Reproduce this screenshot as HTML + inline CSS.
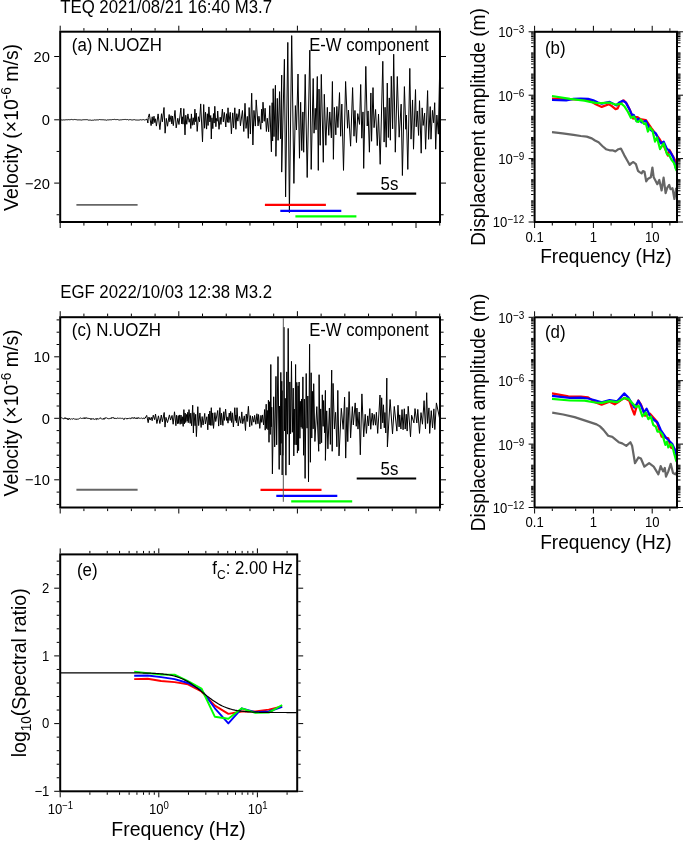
<!DOCTYPE html>
<html><head><meta charset="utf-8"><style>
html,body{margin:0;padding:0;background:#fff;}
svg{display:block;will-change:transform;}
text{font-family:"Liberation Sans", sans-serif;fill:#000;}
</style></head><body>
<svg width="685" height="842" viewBox="0 0 685 842">
<rect width="685" height="842" fill="#fff"/>
<text transform="translate(60.20,12.60) scale(1,1.04)" font-size="16.8" text-anchor="start">TEQ 2021/08/21 16:40 M3.7</text>
<polyline points="61.00,119.81 61.50,119.91 62.00,119.93 62.50,120.06 63.00,119.72 63.50,119.88 64.00,119.89 64.50,119.95 65.00,119.95 65.50,119.80 66.00,119.89 66.50,119.73 67.00,119.93 67.50,119.78 68.00,119.73 68.50,119.62 69.00,119.85 69.50,119.74 70.00,119.79 70.50,119.64 71.00,119.77 71.50,119.43 72.00,119.57 72.50,119.65 73.00,119.55 73.50,119.70 74.00,119.59 74.50,119.46 75.00,119.59 75.50,119.58 76.00,119.42 76.50,119.70 77.00,119.68 77.50,119.90 78.00,120.11 78.50,119.86 79.00,120.11 79.50,119.86 80.00,119.97 80.50,119.92 81.00,120.07 81.50,120.05 82.00,119.94 82.50,119.84 83.00,119.80 83.50,119.73 84.00,119.70 84.50,119.69 85.00,119.76 85.50,119.68 86.00,119.84 86.50,119.65 87.00,119.89 87.50,119.73 88.00,119.73 88.50,120.13 89.00,120.01 89.50,120.08 90.00,120.06 90.50,120.08 91.00,120.26 91.50,120.32 92.00,120.07 92.50,120.20 93.00,120.06 93.50,120.20 94.00,120.10 94.50,119.89 95.00,120.14 95.50,120.01 96.00,120.07 96.50,119.90 97.00,119.64 97.50,119.85 98.00,120.13 98.50,119.88 99.00,119.73 99.50,119.50 100.00,119.61 100.50,119.66 101.00,119.59 101.50,119.71 102.00,119.49 102.50,119.74 103.00,119.72 103.50,119.78 104.00,119.66 104.50,119.91 105.00,119.65 105.50,119.95 106.00,120.11 106.50,120.22 107.00,120.08 107.50,119.87 108.00,119.77 108.50,119.90 109.00,119.75 109.50,119.77 110.00,119.76 110.50,119.75 111.00,119.80 111.50,119.79 112.00,119.58 112.50,119.52 113.00,119.53 113.50,119.54 114.00,119.36 114.50,119.36 115.00,119.59 115.50,119.60 116.00,119.62 116.50,119.59 117.00,119.80 117.50,119.53 118.00,119.57 118.50,119.83 119.00,119.82 119.50,120.00 120.00,120.15 120.50,119.83 121.00,119.98 121.50,119.81 122.00,119.61 122.50,119.61 123.00,119.39 123.50,119.55 124.00,119.44 124.50,119.47 125.00,119.68 125.50,119.44 126.00,119.37 126.50,119.64 127.00,119.67 127.50,119.53 128.00,119.68 128.50,119.94 129.00,119.86 129.50,119.65 130.00,119.72 130.50,119.62 131.00,119.59 131.50,119.90 132.00,120.01 132.50,119.95 133.00,119.81 133.50,119.74 134.00,119.74 134.50,119.65 135.00,119.86 135.50,119.98 136.00,120.02 136.50,120.02 137.00,120.07 137.50,120.06 138.00,120.02 138.50,120.07 139.00,120.09 139.50,119.97 140.00,120.00 140.50,119.69 141.00,119.67 141.50,119.91 142.00,119.74 142.50,119.76 143.00,119.82 143.50,119.61 144.00,119.76 144.50,120.01 145.00,119.64 145.50,119.76 146.00,119.80 146.97,118.96 147.88,123.02 148.27,117.46 149.30,113.90 151.10,125.60 152.22,116.77 152.78,123.82 154.00,116.20 154.79,122.58 155.49,118.81 156.40,126.10 158.10,113.90 159.90,129.60 161.53,113.73 162.37,121.80 164.00,107.50 165.10,133.20 166.30,118.40 167.52,126.23 169.20,114.50 169.80,121.75 171.06,115.70 171.80,123.92 172.42,116.00 173.30,125.60 175.00,110.40 176.20,127.90 177.79,118.27 178.94,124.50 180.90,108.00 181.68,123.82 182.46,116.82 182.99,124.17 183.80,108.60 185.00,134.90 185.76,115.22 186.76,124.26 187.90,113.90 189.14,122.24 190.06,118.66 190.80,128.50 191.40,113.90 192.19,125.29 193.20,117.76 194.12,124.77 194.90,109.20 195.47,121.64 196.23,113.08 197.20,131.40 198.36,116.71 199.50,121.86 200.70,103.90 202.50,141.90 203.70,104.50 204.62,128.23 205.50,112.25 206.60,129.10 207.37,113.76 208.09,125.47 208.90,106.90 209.89,121.92 210.72,115.51 211.30,139.00 211.95,117.79 212.83,128.67 213.48,113.55 214.13,123.08 214.80,106.30 215.90,126.70 216.39,118.41 217.20,121.23 217.70,111.00 219.00,129.30 220.19,117.19 220.95,124.43 222.40,109.00 223.33,121.87 224.33,112.42 225.80,127.00 226.56,113.72 227.45,122.27 228.00,107.80 228.87,122.62 230.27,112.30 231.40,133.80 232.71,112.86 233.58,127.93 234.80,107.80 235.90,129.30 236.80,113.70 237.90,121.17 239.30,109.00 240.45,125.74 242.45,110.53 243.80,131.50 245.00,103.30 246.03,128.43 247.34,116.41 248.30,138.30 249.13,107.52 250.39,134.06 251.70,93.20 252.90,145.00 253.94,110.42 255.35,126.10 256.20,99.90 258.07,125.93 258.94,116.23 260.80,129.30 261.55,109.25 262.16,123.00 263.00,102.20 264.22,121.32 265.10,108.23 266.40,131.50 267.28,118.22 268.65,131.76 269.80,105.60 271.40,151.80 272.17,102.73 272.61,140.99 273.20,88.70 273.99,136.62 275.40,85.30 275.90,156.30 277.30,98.36 278.09,140.34 279.55,91.62 280.56,138.73 281.70,75.10 281.70,172.10 284.40,59.30 285.60,196.90 287.80,42.40 289.40,212.60 291.70,35.60 293.90,183.40 295.39,105.60 296.48,130.03 298.00,74.00 299.47,158.22 300.64,102.26 301.75,150.58 302.88,111.94 303.68,152.24 305.20,74.40 307.20,177.50 309.80,50.20 311.20,169.40 313.20,78.50 314.06,133.19 315.25,108.32 316.02,129.81 317.30,76.50 318.30,170.40 319.02,89.09 320.20,145.28 321.30,74.40 323.30,162.30 324.30,94.29 325.83,145.26 327.32,107.37 328.75,135.34 329.77,111.96 331.37,137.88 332.40,81.50 333.40,159.30 334.37,107.37 335.82,134.85 336.83,106.47 337.92,127.57 339.50,92.60 340.67,136.24 341.83,104.07 343.50,170.40 345.60,81.50 347.56,128.23 348.45,110.12 350.60,146.20 352.60,87.60 354.01,136.21 354.95,110.43 356.48,142.55 357.73,113.60 359.55,124.40 360.70,84.50 361.80,138.19 362.97,111.92 363.70,168.40 365.80,66.40 367.23,126.01 368.07,110.94 369.40,152.20 370.89,92.96 371.57,141.26 373.00,87.60 374.05,127.67 375.58,109.49 377.27,145.62 378.51,114.08 380.20,164.30 382.80,61.30 384.10,142.08 385.07,107.28 386.20,147.20 387.28,83.05 388.35,137.52 389.31,97.92 390.36,140.22 391.29,76.25 392.63,128.82 393.70,54.20 395.30,152.20 397.30,76.50 399.15,137.21 401.17,104.14 402.40,175.50 404.40,86.60 405.82,129.26 406.40,115.01 407.80,169.40 409.80,68.40 411.06,139.15 412.55,99.94 413.50,149.20 415.50,89.60 416.24,126.80 417.26,110.96 418.59,135.45 419.50,100.70 421.20,153.20 422.15,107.89 423.16,125.46 424.61,113.12 425.60,149.20 427.60,90.60 428.64,139.35 430.23,106.61 430.98,139.20 432.44,110.36 433.61,122.80 434.70,102.70 435.70,149.20 436.85,115.04 438.35,134.15 439.50,78.50 439.60,119.80" fill="none" stroke="#000" stroke-width="1.0" stroke-linejoin="round"/>
<text transform="translate(71.80,50.80) scale(1,1.05)" font-size="16.9" text-anchor="start">(a) N.UOZH</text>
<text transform="translate(309.20,50.80) scale(1,1.05)" font-size="16.65" text-anchor="start">E-W component</text>
<line x1="76.40" y1="204.90" x2="137.60" y2="204.90" stroke="#666" stroke-width="1.9"/>
<line x1="356.70" y1="193.60" x2="416.20" y2="193.60" stroke="#000" stroke-width="2.1"/>
<text transform="translate(389.40,189.60) scale(1,1.04)" font-size="16.9" text-anchor="middle">5s</text>
<line x1="264.90" y1="204.90" x2="325.90" y2="204.90" stroke="#f00" stroke-width="2.2"/>
<line x1="280.30" y1="210.90" x2="341.30" y2="210.90" stroke="#00f" stroke-width="2.2"/>
<line x1="295.40" y1="216.40" x2="356.40" y2="216.40" stroke="#0f0" stroke-width="2.2"/>
<rect x="60.20" y="31.70" width="379.80" height="190.30" fill="none" stroke="#000" stroke-width="2"/>
<line x1="60.20" y1="223.00" x2="60.20" y2="228.00" stroke="#000" stroke-width="1"/>
<line x1="60.20" y1="30.70" x2="60.20" y2="25.70" stroke="#000" stroke-width="1"/>
<line x1="83.92" y1="223.00" x2="83.92" y2="225.60" stroke="#000" stroke-width="1"/>
<line x1="83.92" y1="30.70" x2="83.92" y2="28.10" stroke="#000" stroke-width="1"/>
<line x1="107.64" y1="223.00" x2="107.64" y2="225.60" stroke="#000" stroke-width="1"/>
<line x1="107.64" y1="30.70" x2="107.64" y2="28.10" stroke="#000" stroke-width="1"/>
<line x1="131.36" y1="223.00" x2="131.36" y2="225.60" stroke="#000" stroke-width="1"/>
<line x1="131.36" y1="30.70" x2="131.36" y2="28.10" stroke="#000" stroke-width="1"/>
<line x1="155.08" y1="223.00" x2="155.08" y2="225.60" stroke="#000" stroke-width="1"/>
<line x1="155.08" y1="30.70" x2="155.08" y2="28.10" stroke="#000" stroke-width="1"/>
<line x1="178.80" y1="223.00" x2="178.80" y2="228.00" stroke="#000" stroke-width="1"/>
<line x1="178.80" y1="30.70" x2="178.80" y2="25.70" stroke="#000" stroke-width="1"/>
<line x1="202.52" y1="223.00" x2="202.52" y2="225.60" stroke="#000" stroke-width="1"/>
<line x1="202.52" y1="30.70" x2="202.52" y2="28.10" stroke="#000" stroke-width="1"/>
<line x1="226.24" y1="223.00" x2="226.24" y2="225.60" stroke="#000" stroke-width="1"/>
<line x1="226.24" y1="30.70" x2="226.24" y2="28.10" stroke="#000" stroke-width="1"/>
<line x1="249.96" y1="223.00" x2="249.96" y2="225.60" stroke="#000" stroke-width="1"/>
<line x1="249.96" y1="30.70" x2="249.96" y2="28.10" stroke="#000" stroke-width="1"/>
<line x1="273.68" y1="223.00" x2="273.68" y2="225.60" stroke="#000" stroke-width="1"/>
<line x1="273.68" y1="30.70" x2="273.68" y2="28.10" stroke="#000" stroke-width="1"/>
<line x1="297.40" y1="223.00" x2="297.40" y2="228.00" stroke="#000" stroke-width="1"/>
<line x1="297.40" y1="30.70" x2="297.40" y2="25.70" stroke="#000" stroke-width="1"/>
<line x1="321.12" y1="223.00" x2="321.12" y2="225.60" stroke="#000" stroke-width="1"/>
<line x1="321.12" y1="30.70" x2="321.12" y2="28.10" stroke="#000" stroke-width="1"/>
<line x1="344.84" y1="223.00" x2="344.84" y2="225.60" stroke="#000" stroke-width="1"/>
<line x1="344.84" y1="30.70" x2="344.84" y2="28.10" stroke="#000" stroke-width="1"/>
<line x1="368.56" y1="223.00" x2="368.56" y2="225.60" stroke="#000" stroke-width="1"/>
<line x1="368.56" y1="30.70" x2="368.56" y2="28.10" stroke="#000" stroke-width="1"/>
<line x1="392.28" y1="223.00" x2="392.28" y2="225.60" stroke="#000" stroke-width="1"/>
<line x1="392.28" y1="30.70" x2="392.28" y2="28.10" stroke="#000" stroke-width="1"/>
<line x1="416.00" y1="223.00" x2="416.00" y2="228.00" stroke="#000" stroke-width="1"/>
<line x1="416.00" y1="30.70" x2="416.00" y2="25.70" stroke="#000" stroke-width="1"/>
<line x1="439.72" y1="223.00" x2="439.72" y2="225.60" stroke="#000" stroke-width="1"/>
<line x1="439.72" y1="30.70" x2="439.72" y2="28.10" stroke="#000" stroke-width="1"/>
<line x1="56.60" y1="214.75" x2="59.20" y2="214.75" stroke="#000" stroke-width="1"/>
<line x1="441.00" y1="214.75" x2="443.60" y2="214.75" stroke="#000" stroke-width="1"/>
<line x1="54.20" y1="183.10" x2="59.20" y2="183.10" stroke="#000" stroke-width="1"/>
<line x1="441.00" y1="183.10" x2="446.00" y2="183.10" stroke="#000" stroke-width="1"/>
<text transform="translate(49.90,188.60) scale(1,1.03)" font-size="14.7" text-anchor="end">−20</text>
<line x1="56.60" y1="151.45" x2="59.20" y2="151.45" stroke="#000" stroke-width="1"/>
<line x1="441.00" y1="151.45" x2="443.60" y2="151.45" stroke="#000" stroke-width="1"/>
<line x1="54.20" y1="119.80" x2="59.20" y2="119.80" stroke="#000" stroke-width="1"/>
<line x1="441.00" y1="119.80" x2="446.00" y2="119.80" stroke="#000" stroke-width="1"/>
<text transform="translate(49.90,125.30) scale(1,1.03)" font-size="14.7" text-anchor="end">0</text>
<line x1="56.60" y1="88.15" x2="59.20" y2="88.15" stroke="#000" stroke-width="1"/>
<line x1="441.00" y1="88.15" x2="443.60" y2="88.15" stroke="#000" stroke-width="1"/>
<line x1="54.20" y1="56.50" x2="59.20" y2="56.50" stroke="#000" stroke-width="1"/>
<line x1="441.00" y1="56.50" x2="446.00" y2="56.50" stroke="#000" stroke-width="1"/>
<text transform="translate(49.90,62.00) scale(1,1.03)" font-size="14.7" text-anchor="end">20</text>
<text transform="translate(17.70,127.40) rotate(-90) scale(1,1.08)" font-size="19.4" text-anchor="middle">Velocity (×10<tspan dy="-6.4" font-size="13.8">-6</tspan><tspan dy="6.4"> m/s)</tspan></text>
<text transform="translate(60.20,297.50) scale(1,1.04)" font-size="16.8" text-anchor="start">EGF 2022/10/03 12:38 M3.2</text>
<polyline points="61.00,417.78 61.40,417.71 61.80,418.05 62.20,418.35 62.60,418.03 63.00,418.61 63.40,418.62 63.80,418.96 64.20,418.65 64.60,418.65 65.00,417.52 65.40,418.73 65.80,418.13 66.20,418.02 66.60,418.64 67.00,418.10 67.40,419.51 67.80,418.67 68.20,418.45 68.60,419.72 69.00,419.18 69.40,418.35 69.80,419.02 70.20,419.40 70.60,419.10 71.00,419.19 71.40,418.76 71.80,418.94 72.20,419.07 72.60,419.18 73.00,418.98 73.40,418.38 73.80,418.81 74.20,418.65 74.60,418.99 75.00,419.56 75.40,419.30 75.80,418.80 76.20,419.01 76.60,419.38 77.00,419.62 77.40,418.93 77.80,419.12 78.20,419.10 78.60,419.01 79.00,418.73 79.40,418.58 79.80,418.22 80.20,418.17 80.60,417.90 81.00,418.07 81.40,418.54 81.80,418.29 82.20,418.16 82.60,418.51 83.00,418.06 83.40,417.80 83.80,418.54 84.20,418.94 84.60,417.74 85.00,418.10 85.40,417.85 85.80,418.61 86.20,417.51 86.60,417.90 87.00,418.36 87.40,418.34 87.80,418.15 88.20,418.27 88.60,418.46 89.00,418.80 89.40,418.04 89.80,418.67 90.20,418.63 90.60,418.74 91.00,419.70 91.40,418.55 91.80,418.99 92.20,418.95 92.60,418.75 93.00,419.19 93.40,418.57 93.80,419.26 94.20,419.35 94.60,419.36 95.00,418.95 95.40,418.69 95.80,419.30 96.20,419.64 96.60,418.57 97.00,419.34 97.40,418.51 97.80,418.99 98.20,419.09 98.60,418.97 99.00,418.64 99.40,418.32 99.80,418.67 100.20,418.29 100.60,417.72 101.00,418.62 101.40,419.03 101.80,419.00 102.20,419.19 102.60,418.96 103.00,418.91 103.40,419.10 103.80,418.23 104.20,419.37 104.60,418.90 105.00,417.57 105.40,417.95 105.80,418.19 106.20,418.23 106.60,417.68 107.00,418.16 107.40,418.35 107.80,418.88 108.20,418.48 108.60,418.75 109.00,418.61 109.40,418.68 109.80,418.40 110.20,418.37 110.60,417.90 111.00,418.77 111.40,418.24 111.80,417.44 112.20,418.13 112.60,417.63 113.00,417.68 113.40,417.50 113.80,417.76 114.20,418.79 114.60,418.17 115.00,418.17 115.40,418.68 115.80,418.11 116.20,418.37 116.60,418.63 117.00,417.93 117.40,418.03 117.80,418.20 118.20,418.39 118.60,418.26 119.00,418.26 119.40,418.31 119.80,418.25 120.20,418.49 120.60,418.13 121.00,418.05 121.40,418.21 121.80,418.63 122.20,418.59 122.60,418.25 123.00,418.57 123.40,418.69 123.80,419.56 124.20,419.51 124.60,418.46 125.00,418.47 125.40,417.91 125.80,418.39 126.20,418.62 126.60,418.62 127.00,419.14 127.40,418.20 127.80,418.89 128.20,418.41 128.60,418.41 129.00,418.25 129.40,418.01 129.80,418.57 130.20,418.39 130.60,418.69 131.00,418.56 131.40,417.69 131.80,418.41 132.20,417.75 132.60,417.83 133.00,417.88 133.40,417.73 133.80,418.55 134.20,417.94 134.60,417.41 135.00,418.44 135.40,418.31 135.80,418.36 136.20,417.96 136.60,418.61 137.00,417.60 137.40,418.39 137.80,418.78 138.20,417.50 138.60,417.89 139.00,418.15 139.40,418.15 139.80,418.47 140.20,418.56 140.60,418.13 141.00,418.02 141.40,418.01 141.80,418.33 142.20,418.66 142.60,418.57 143.00,418.00 143.40,417.90 143.80,418.62 144.20,418.78 144.60,418.09 145.00,418.40 145.88,416.83 146.70,415.40 148.20,422.70 148.94,417.07 150.11,420.06 151.30,417.27 152.15,420.71 153.28,415.17 154.61,419.67 155.50,414.00 156.90,423.50 158.45,415.85 159.86,423.49 161.30,415.03 162.39,421.82 164.20,412.50 165.00,427.10 165.96,417.34 167.47,422.58 169.44,414.90 170.55,420.06 172.05,415.42 173.17,424.24 174.50,411.80 175.90,425.70 176.46,415.15 177.44,423.71 178.26,415.55 178.67,423.46 179.70,414.92 180.16,424.28 181.03,415.06 181.86,423.79 182.30,416.72 183.20,426.40 183.90,409.60 184.50,423.81 185.14,413.03 185.71,422.48 186.42,414.45 187.16,421.17 187.75,412.31 188.26,422.71 189.00,409.60 190.16,423.38 190.74,413.13 191.61,425.78 192.70,405.20 193.40,433.00 193.94,412.73 195.09,425.72 195.63,414.34 196.40,436.60 197.80,406.70 198.64,425.58 199.92,412.95 201.12,427.48 202.15,416.57 203.09,425.05 204.73,413.38 205.35,423.92 206.84,416.74 207.80,429.80 208.50,414.18 209.18,424.90 209.83,411.02 210.44,425.35 211.30,407.70 211.96,425.45 212.76,412.87 213.50,428.40 214.93,412.60 215.73,421.53 217.71,410.51 218.66,426.10 219.90,407.70 220.84,424.94 221.55,413.19 222.90,425.44 223.78,411.74 224.50,420.39 225.60,409.10 226.65,420.51 227.09,416.90 228.01,423.17 229.28,413.01 230.09,420.55 230.67,411.43 231.58,422.47 232.29,412.83 233.40,427.00 234.80,407.70 235.45,420.53 235.87,415.02 236.45,422.63 237.00,407.70 238.18,426.02 239.47,416.48 240.83,423.25 241.79,411.90 242.72,423.68 244.33,415.88 245.50,430.50 246.22,414.02 247.18,421.54 248.40,406.30 249.71,426.77 250.30,415.59 251.81,425.41 252.45,416.14 253.79,422.16 254.63,415.37 255.83,424.26 256.92,413.75 257.94,423.72 258.54,414.52 259.80,428.40 260.93,415.39 261.68,422.34 262.54,414.93 263.58,424.90 264.64,409.54 265.19,430.16 266.20,404.20 266.65,428.58 267.27,410.44 268.00,429.76 268.43,400.20 269.00,442.30 269.64,401.73 270.29,434.43 270.80,364.50 271.26,426.77 271.72,407.16 272.40,473.90 273.68,396.79 274.70,446.91 275.96,376.36 276.66,444.81 278.00,356.60 279.20,469.40 279.56,406.07 280.28,455.13 280.82,372.40 281.09,443.36 281.79,381.26 282.20,475.00 282.91,390.61 283.26,455.30 283.90,327.20 284.57,430.98 285.26,398.34 285.90,475.20 286.76,371.89 287.49,434.13 288.20,328.40 289.30,464.90 289.83,381.96 290.59,433.72 291.48,361.38 292.34,432.28 293.24,388.14 293.80,455.90 294.24,408.99 294.86,444.78 295.60,364.50 296.27,444.84 296.80,382.33 297.42,453.08 298.17,385.86 298.60,450.54 299.10,382.01 299.92,438.28 300.29,401.27 301.08,427.14 301.64,398.98 302.26,428.55 302.90,376.90 303.59,455.29 304.33,399.01 305.10,478.40 306.20,373.50 307.07,428.20 307.85,396.03 308.50,481.80 309.60,344.20 310.41,462.25 311.16,372.78 311.77,438.04 312.38,391.35 313.13,428.87 313.70,383.70 314.92,441.49 316.82,406.63 318.70,451.30 319.10,374.70 319.97,444.07 320.68,408.92 321.62,442.70 322.31,394.83 323.14,426.35 323.60,400.54 324.70,432.86 325.40,390.40 325.40,460.40 326.71,410.85 327.90,448.83 329.40,407.97 330.36,444.42 331.70,370.10 332.20,451.30 333.06,383.42 334.41,429.03 335.59,412.31 336.87,446.82 337.80,390.40 339.00,455.90 341.31,408.32 343.18,429.30 344.60,397.20 345.70,458.10 346.98,407.39 347.76,441.61 349.10,391.60 350.60,437.90 352.36,406.58 353.33,424.95 355.20,402.90 356.28,426.27 356.94,408.02 357.99,429.11 359.21,411.98 360.30,454.80 361.90,393.90 363.71,436.90 365.19,414.31 366.40,433.40 367.70,415.87 368.60,425.82 369.80,408.60 370.73,429.28 372.17,413.10 373.34,425.26 374.15,414.36 375.56,425.18 376.39,412.27 377.70,433.40 380.00,395.00 380.87,428.95 381.65,397.82 382.76,422.88 383.48,404.80 384.28,427.83 384.92,412.54 385.75,432.96 386.80,378.10 387.40,446.90 390.10,399.50 392.53,433.86 394.28,406.47 396.90,431.10 398.00,405.20 399.10,426.92 399.73,414.86 400.93,428.96 402.04,409.52 403.08,429.76 404.30,408.78 405.18,429.05 406.25,414.23 407.15,431.05 408.20,406.30 410.50,436.80 411.64,415.24 413.93,422.89 415.00,408.60 416.82,422.98 417.79,409.43 419.50,433.40 421.00,412.62 422.46,424.19 424.09,400.70 425.50,428.82 426.70,392.70 427.59,423.41 428.94,407.88 429.70,433.40 431.25,410.66 432.55,427.96 433.87,408.86 434.82,429.55 436.40,402.90 439.60,418.40" fill="none" stroke="#000" stroke-width="1.0" stroke-linejoin="round"/>
<text transform="translate(71.80,336.30) scale(1,1.05)" font-size="16.9" text-anchor="start">(c) N.UOZH</text>
<text transform="translate(309.20,336.30) scale(1,1.05)" font-size="16.65" text-anchor="start">E-W component</text>
<line x1="76.40" y1="489.80" x2="137.60" y2="489.80" stroke="#666" stroke-width="1.9"/>
<line x1="356.70" y1="478.50" x2="416.20" y2="478.50" stroke="#000" stroke-width="2.1"/>
<text transform="translate(389.40,474.50) scale(1,1.04)" font-size="16.9" text-anchor="middle">5s</text>
<line x1="260.50" y1="489.80" x2="321.50" y2="489.80" stroke="#f00" stroke-width="2.2"/>
<line x1="276.30" y1="495.80" x2="337.30" y2="495.80" stroke="#00f" stroke-width="2.2"/>
<line x1="291.20" y1="501.30" x2="352.20" y2="501.30" stroke="#0f0" stroke-width="2.2"/>
<rect x="60.20" y="317.20" width="379.80" height="190.30" fill="none" stroke="#000" stroke-width="2"/>
<line x1="60.20" y1="508.50" x2="60.20" y2="513.50" stroke="#000" stroke-width="1"/>
<line x1="60.20" y1="316.20" x2="60.20" y2="311.20" stroke="#000" stroke-width="1"/>
<line x1="83.92" y1="508.50" x2="83.92" y2="511.10" stroke="#000" stroke-width="1"/>
<line x1="83.92" y1="316.20" x2="83.92" y2="313.60" stroke="#000" stroke-width="1"/>
<line x1="107.64" y1="508.50" x2="107.64" y2="511.10" stroke="#000" stroke-width="1"/>
<line x1="107.64" y1="316.20" x2="107.64" y2="313.60" stroke="#000" stroke-width="1"/>
<line x1="131.36" y1="508.50" x2="131.36" y2="511.10" stroke="#000" stroke-width="1"/>
<line x1="131.36" y1="316.20" x2="131.36" y2="313.60" stroke="#000" stroke-width="1"/>
<line x1="155.08" y1="508.50" x2="155.08" y2="511.10" stroke="#000" stroke-width="1"/>
<line x1="155.08" y1="316.20" x2="155.08" y2="313.60" stroke="#000" stroke-width="1"/>
<line x1="178.80" y1="508.50" x2="178.80" y2="513.50" stroke="#000" stroke-width="1"/>
<line x1="178.80" y1="316.20" x2="178.80" y2="311.20" stroke="#000" stroke-width="1"/>
<line x1="202.52" y1="508.50" x2="202.52" y2="511.10" stroke="#000" stroke-width="1"/>
<line x1="202.52" y1="316.20" x2="202.52" y2="313.60" stroke="#000" stroke-width="1"/>
<line x1="226.24" y1="508.50" x2="226.24" y2="511.10" stroke="#000" stroke-width="1"/>
<line x1="226.24" y1="316.20" x2="226.24" y2="313.60" stroke="#000" stroke-width="1"/>
<line x1="249.96" y1="508.50" x2="249.96" y2="511.10" stroke="#000" stroke-width="1"/>
<line x1="249.96" y1="316.20" x2="249.96" y2="313.60" stroke="#000" stroke-width="1"/>
<line x1="273.68" y1="508.50" x2="273.68" y2="511.10" stroke="#000" stroke-width="1"/>
<line x1="273.68" y1="316.20" x2="273.68" y2="313.60" stroke="#000" stroke-width="1"/>
<line x1="297.40" y1="508.50" x2="297.40" y2="513.50" stroke="#000" stroke-width="1"/>
<line x1="297.40" y1="316.20" x2="297.40" y2="311.20" stroke="#000" stroke-width="1"/>
<line x1="321.12" y1="508.50" x2="321.12" y2="511.10" stroke="#000" stroke-width="1"/>
<line x1="321.12" y1="316.20" x2="321.12" y2="313.60" stroke="#000" stroke-width="1"/>
<line x1="344.84" y1="508.50" x2="344.84" y2="511.10" stroke="#000" stroke-width="1"/>
<line x1="344.84" y1="316.20" x2="344.84" y2="313.60" stroke="#000" stroke-width="1"/>
<line x1="368.56" y1="508.50" x2="368.56" y2="511.10" stroke="#000" stroke-width="1"/>
<line x1="368.56" y1="316.20" x2="368.56" y2="313.60" stroke="#000" stroke-width="1"/>
<line x1="392.28" y1="508.50" x2="392.28" y2="511.10" stroke="#000" stroke-width="1"/>
<line x1="392.28" y1="316.20" x2="392.28" y2="313.60" stroke="#000" stroke-width="1"/>
<line x1="416.00" y1="508.50" x2="416.00" y2="513.50" stroke="#000" stroke-width="1"/>
<line x1="416.00" y1="316.20" x2="416.00" y2="311.20" stroke="#000" stroke-width="1"/>
<line x1="439.72" y1="508.50" x2="439.72" y2="511.10" stroke="#000" stroke-width="1"/>
<line x1="439.72" y1="316.20" x2="439.72" y2="313.60" stroke="#000" stroke-width="1"/>
<line x1="56.60" y1="504.40" x2="59.20" y2="504.40" stroke="#000" stroke-width="1"/>
<line x1="441.00" y1="504.40" x2="443.60" y2="504.40" stroke="#000" stroke-width="1"/>
<line x1="56.60" y1="492.10" x2="59.20" y2="492.10" stroke="#000" stroke-width="1"/>
<line x1="441.00" y1="492.10" x2="443.60" y2="492.10" stroke="#000" stroke-width="1"/>
<line x1="54.20" y1="479.80" x2="59.20" y2="479.80" stroke="#000" stroke-width="1"/>
<line x1="441.00" y1="479.80" x2="446.00" y2="479.80" stroke="#000" stroke-width="1"/>
<text transform="translate(49.90,485.30) scale(1,1.03)" font-size="14.7" text-anchor="end">−10</text>
<line x1="56.60" y1="467.50" x2="59.20" y2="467.50" stroke="#000" stroke-width="1"/>
<line x1="441.00" y1="467.50" x2="443.60" y2="467.50" stroke="#000" stroke-width="1"/>
<line x1="56.60" y1="455.20" x2="59.20" y2="455.20" stroke="#000" stroke-width="1"/>
<line x1="441.00" y1="455.20" x2="443.60" y2="455.20" stroke="#000" stroke-width="1"/>
<line x1="56.60" y1="442.90" x2="59.20" y2="442.90" stroke="#000" stroke-width="1"/>
<line x1="441.00" y1="442.90" x2="443.60" y2="442.90" stroke="#000" stroke-width="1"/>
<line x1="56.60" y1="430.60" x2="59.20" y2="430.60" stroke="#000" stroke-width="1"/>
<line x1="441.00" y1="430.60" x2="443.60" y2="430.60" stroke="#000" stroke-width="1"/>
<line x1="54.20" y1="418.30" x2="59.20" y2="418.30" stroke="#000" stroke-width="1"/>
<line x1="441.00" y1="418.30" x2="446.00" y2="418.30" stroke="#000" stroke-width="1"/>
<text transform="translate(49.90,423.80) scale(1,1.03)" font-size="14.7" text-anchor="end">0</text>
<line x1="56.60" y1="406.00" x2="59.20" y2="406.00" stroke="#000" stroke-width="1"/>
<line x1="441.00" y1="406.00" x2="443.60" y2="406.00" stroke="#000" stroke-width="1"/>
<line x1="56.60" y1="393.70" x2="59.20" y2="393.70" stroke="#000" stroke-width="1"/>
<line x1="441.00" y1="393.70" x2="443.60" y2="393.70" stroke="#000" stroke-width="1"/>
<line x1="56.60" y1="381.40" x2="59.20" y2="381.40" stroke="#000" stroke-width="1"/>
<line x1="441.00" y1="381.40" x2="443.60" y2="381.40" stroke="#000" stroke-width="1"/>
<line x1="56.60" y1="369.10" x2="59.20" y2="369.10" stroke="#000" stroke-width="1"/>
<line x1="441.00" y1="369.10" x2="443.60" y2="369.10" stroke="#000" stroke-width="1"/>
<line x1="54.20" y1="356.80" x2="59.20" y2="356.80" stroke="#000" stroke-width="1"/>
<line x1="441.00" y1="356.80" x2="446.00" y2="356.80" stroke="#000" stroke-width="1"/>
<text transform="translate(49.90,362.30) scale(1,1.03)" font-size="14.7" text-anchor="end">10</text>
<line x1="56.60" y1="344.50" x2="59.20" y2="344.50" stroke="#000" stroke-width="1"/>
<line x1="441.00" y1="344.50" x2="443.60" y2="344.50" stroke="#000" stroke-width="1"/>
<line x1="56.60" y1="332.20" x2="59.20" y2="332.20" stroke="#000" stroke-width="1"/>
<line x1="441.00" y1="332.20" x2="443.60" y2="332.20" stroke="#000" stroke-width="1"/>
<line x1="56.60" y1="319.90" x2="59.20" y2="319.90" stroke="#000" stroke-width="1"/>
<line x1="441.00" y1="319.90" x2="443.60" y2="319.90" stroke="#000" stroke-width="1"/>
<text transform="translate(17.70,412.90) rotate(-90) scale(1,1.08)" font-size="19.4" text-anchor="middle">Velocity (×10<tspan dy="-6.4" font-size="13.8">-6</tspan><tspan dy="6.4"> m/s)</tspan></text>
<line x1="283.30" y1="318.20" x2="283.30" y2="501.80" stroke="#555" stroke-width="1"/>
<polyline points="552.00,132.20 562.60,133.30 573.50,134.80 580.80,136.00 586.70,136.60 591.80,138.40 595.00,140.50 598.60,142.30 602.30,146.00 606.00,149.20 609.60,150.30 612.50,150.30 615.40,151.40 618.40,149.20 620.90,148.50 624.20,155.10 627.10,160.20 629.70,164.90 631.50,163.10 633.30,162.00 635.90,164.20 638.00,170.80 639.60,172.10 641.60,173.40 642.90,171.10 644.50,171.80 646.20,181.30 648.10,178.70 650.80,177.30 652.40,167.50 653.70,177.30 655.40,180.60 657.30,184.20 659.30,180.00 661.60,190.50 663.60,177.70 665.60,193.10 667.20,187.90 669.20,184.90 670.50,189.20 672.50,188.20 674.40,199.00 676.10,188.50 677.00,190.00" fill="none" stroke="#666" stroke-width="2.2" stroke-linejoin="round"/>
<polyline points="552.00,98.50 569.90,99.20 584.00,99.80 590.00,100.70 595.80,104.30 601.70,106.90 609.00,104.30 611.90,106.20 615.50,109.10 617.70,108.40 619.90,103.20 623.60,100.30 626.50,103.20 630.10,110.50 633.10,118.60 635.30,117.10 637.50,117.10 640.00,119.00 645.80,120.00 651.60,128.30 659.10,138.30 664.10,146.60 667.90,155.70 669.50,149.90 675.80,161.60 677.00,164.00" fill="none" stroke="#f00" stroke-width="2.2" stroke-linejoin="round"/>
<polyline points="552.00,100.00 566.20,100.30 573.50,98.90 580.80,98.50 588.10,98.90 593.30,100.30 598.00,102.50 601.70,103.60 609.70,101.90 616.30,105.40 619.20,102.50 622.80,100.70 625.80,102.50 629.40,109.10 632.00,114.90 633.80,114.90 636.70,121.20 638.30,118.70 641.70,122.50 645.80,120.80 648.70,126.60 650.80,130.00 655.80,133.30 657.90,138.30 660.80,143.30 663.70,141.60 666.60,148.30 670.00,151.60 673.30,157.40 675.80,168.20 677.00,170.00" fill="none" stroke="#00f" stroke-width="2.2" stroke-linejoin="round"/>
<polyline points="552.00,96.00 569.90,98.90 584.50,100.70 590.00,101.80 595.80,102.90 601.70,103.20 609.00,102.50 616.30,104.70 621.40,103.60 624.30,106.20 628.00,112.00 630.90,117.80 633.80,116.40 636.70,121.50 638.30,122.00 640.80,119.60 644.20,124.10 645.80,123.30 647.90,131.60 650.00,127.50 652.50,130.80 655.00,141.60 657.00,137.40 660.00,149.10 663.70,143.30 667.00,154.10 669.10,154.90 671.60,159.90 674.10,163.20 676.20,169.90 677.00,171.00" fill="none" stroke="#0f0" stroke-width="2.2" stroke-linejoin="round"/>
<rect x="534.60" y="31.80" width="142.40" height="190.20" fill="none" stroke="#000" stroke-width="2"/>
<line x1="528.60" y1="222.00" x2="533.60" y2="222.00" stroke="#000" stroke-width="1"/>
<line x1="678.00" y1="222.00" x2="683.00" y2="222.00" stroke="#000" stroke-width="1"/>
<line x1="531.10" y1="215.64" x2="533.60" y2="215.64" stroke="#000" stroke-width="1"/>
<line x1="678.00" y1="215.64" x2="680.50" y2="215.64" stroke="#000" stroke-width="1"/>
<line x1="531.10" y1="211.92" x2="533.60" y2="211.92" stroke="#000" stroke-width="1"/>
<line x1="678.00" y1="211.92" x2="680.50" y2="211.92" stroke="#000" stroke-width="1"/>
<line x1="531.10" y1="209.28" x2="533.60" y2="209.28" stroke="#000" stroke-width="1"/>
<line x1="678.00" y1="209.28" x2="680.50" y2="209.28" stroke="#000" stroke-width="1"/>
<line x1="531.10" y1="207.23" x2="533.60" y2="207.23" stroke="#000" stroke-width="1"/>
<line x1="678.00" y1="207.23" x2="680.50" y2="207.23" stroke="#000" stroke-width="1"/>
<line x1="531.10" y1="205.56" x2="533.60" y2="205.56" stroke="#000" stroke-width="1"/>
<line x1="678.00" y1="205.56" x2="680.50" y2="205.56" stroke="#000" stroke-width="1"/>
<line x1="531.10" y1="204.14" x2="533.60" y2="204.14" stroke="#000" stroke-width="1"/>
<line x1="678.00" y1="204.14" x2="680.50" y2="204.14" stroke="#000" stroke-width="1"/>
<line x1="531.10" y1="202.91" x2="533.60" y2="202.91" stroke="#000" stroke-width="1"/>
<line x1="678.00" y1="202.91" x2="680.50" y2="202.91" stroke="#000" stroke-width="1"/>
<line x1="531.10" y1="201.83" x2="533.60" y2="201.83" stroke="#000" stroke-width="1"/>
<line x1="678.00" y1="201.83" x2="680.50" y2="201.83" stroke="#000" stroke-width="1"/>
<line x1="531.10" y1="200.87" x2="533.60" y2="200.87" stroke="#000" stroke-width="1"/>
<line x1="678.00" y1="200.87" x2="680.50" y2="200.87" stroke="#000" stroke-width="1"/>
<line x1="531.10" y1="194.50" x2="533.60" y2="194.50" stroke="#000" stroke-width="1"/>
<line x1="678.00" y1="194.50" x2="680.50" y2="194.50" stroke="#000" stroke-width="1"/>
<line x1="531.10" y1="190.78" x2="533.60" y2="190.78" stroke="#000" stroke-width="1"/>
<line x1="678.00" y1="190.78" x2="680.50" y2="190.78" stroke="#000" stroke-width="1"/>
<line x1="531.10" y1="188.14" x2="533.60" y2="188.14" stroke="#000" stroke-width="1"/>
<line x1="678.00" y1="188.14" x2="680.50" y2="188.14" stroke="#000" stroke-width="1"/>
<line x1="531.10" y1="186.10" x2="533.60" y2="186.10" stroke="#000" stroke-width="1"/>
<line x1="678.00" y1="186.10" x2="680.50" y2="186.10" stroke="#000" stroke-width="1"/>
<line x1="531.10" y1="184.42" x2="533.60" y2="184.42" stroke="#000" stroke-width="1"/>
<line x1="678.00" y1="184.42" x2="680.50" y2="184.42" stroke="#000" stroke-width="1"/>
<line x1="531.10" y1="183.01" x2="533.60" y2="183.01" stroke="#000" stroke-width="1"/>
<line x1="678.00" y1="183.01" x2="680.50" y2="183.01" stroke="#000" stroke-width="1"/>
<line x1="531.10" y1="181.78" x2="533.60" y2="181.78" stroke="#000" stroke-width="1"/>
<line x1="678.00" y1="181.78" x2="680.50" y2="181.78" stroke="#000" stroke-width="1"/>
<line x1="531.10" y1="180.70" x2="533.60" y2="180.70" stroke="#000" stroke-width="1"/>
<line x1="678.00" y1="180.70" x2="680.50" y2="180.70" stroke="#000" stroke-width="1"/>
<line x1="531.10" y1="179.73" x2="533.60" y2="179.73" stroke="#000" stroke-width="1"/>
<line x1="678.00" y1="179.73" x2="680.50" y2="179.73" stroke="#000" stroke-width="1"/>
<line x1="531.10" y1="173.37" x2="533.60" y2="173.37" stroke="#000" stroke-width="1"/>
<line x1="678.00" y1="173.37" x2="680.50" y2="173.37" stroke="#000" stroke-width="1"/>
<line x1="531.10" y1="169.65" x2="533.60" y2="169.65" stroke="#000" stroke-width="1"/>
<line x1="678.00" y1="169.65" x2="680.50" y2="169.65" stroke="#000" stroke-width="1"/>
<line x1="531.10" y1="167.01" x2="533.60" y2="167.01" stroke="#000" stroke-width="1"/>
<line x1="678.00" y1="167.01" x2="680.50" y2="167.01" stroke="#000" stroke-width="1"/>
<line x1="531.10" y1="164.96" x2="533.60" y2="164.96" stroke="#000" stroke-width="1"/>
<line x1="678.00" y1="164.96" x2="680.50" y2="164.96" stroke="#000" stroke-width="1"/>
<line x1="531.10" y1="163.29" x2="533.60" y2="163.29" stroke="#000" stroke-width="1"/>
<line x1="678.00" y1="163.29" x2="680.50" y2="163.29" stroke="#000" stroke-width="1"/>
<line x1="531.10" y1="161.87" x2="533.60" y2="161.87" stroke="#000" stroke-width="1"/>
<line x1="678.00" y1="161.87" x2="680.50" y2="161.87" stroke="#000" stroke-width="1"/>
<line x1="531.10" y1="160.65" x2="533.60" y2="160.65" stroke="#000" stroke-width="1"/>
<line x1="678.00" y1="160.65" x2="680.50" y2="160.65" stroke="#000" stroke-width="1"/>
<line x1="531.10" y1="159.57" x2="533.60" y2="159.57" stroke="#000" stroke-width="1"/>
<line x1="678.00" y1="159.57" x2="680.50" y2="159.57" stroke="#000" stroke-width="1"/>
<line x1="528.60" y1="158.60" x2="533.60" y2="158.60" stroke="#000" stroke-width="1"/>
<line x1="678.00" y1="158.60" x2="683.00" y2="158.60" stroke="#000" stroke-width="1"/>
<line x1="531.10" y1="152.24" x2="533.60" y2="152.24" stroke="#000" stroke-width="1"/>
<line x1="678.00" y1="152.24" x2="680.50" y2="152.24" stroke="#000" stroke-width="1"/>
<line x1="531.10" y1="148.52" x2="533.60" y2="148.52" stroke="#000" stroke-width="1"/>
<line x1="678.00" y1="148.52" x2="680.50" y2="148.52" stroke="#000" stroke-width="1"/>
<line x1="531.10" y1="145.88" x2="533.60" y2="145.88" stroke="#000" stroke-width="1"/>
<line x1="678.00" y1="145.88" x2="680.50" y2="145.88" stroke="#000" stroke-width="1"/>
<line x1="531.10" y1="143.83" x2="533.60" y2="143.83" stroke="#000" stroke-width="1"/>
<line x1="678.00" y1="143.83" x2="680.50" y2="143.83" stroke="#000" stroke-width="1"/>
<line x1="531.10" y1="142.16" x2="533.60" y2="142.16" stroke="#000" stroke-width="1"/>
<line x1="678.00" y1="142.16" x2="680.50" y2="142.16" stroke="#000" stroke-width="1"/>
<line x1="531.10" y1="140.74" x2="533.60" y2="140.74" stroke="#000" stroke-width="1"/>
<line x1="678.00" y1="140.74" x2="680.50" y2="140.74" stroke="#000" stroke-width="1"/>
<line x1="531.10" y1="139.51" x2="533.60" y2="139.51" stroke="#000" stroke-width="1"/>
<line x1="678.00" y1="139.51" x2="680.50" y2="139.51" stroke="#000" stroke-width="1"/>
<line x1="531.10" y1="138.43" x2="533.60" y2="138.43" stroke="#000" stroke-width="1"/>
<line x1="678.00" y1="138.43" x2="680.50" y2="138.43" stroke="#000" stroke-width="1"/>
<line x1="531.10" y1="137.47" x2="533.60" y2="137.47" stroke="#000" stroke-width="1"/>
<line x1="678.00" y1="137.47" x2="680.50" y2="137.47" stroke="#000" stroke-width="1"/>
<line x1="531.10" y1="131.10" x2="533.60" y2="131.10" stroke="#000" stroke-width="1"/>
<line x1="678.00" y1="131.10" x2="680.50" y2="131.10" stroke="#000" stroke-width="1"/>
<line x1="531.10" y1="127.38" x2="533.60" y2="127.38" stroke="#000" stroke-width="1"/>
<line x1="678.00" y1="127.38" x2="680.50" y2="127.38" stroke="#000" stroke-width="1"/>
<line x1="531.10" y1="124.74" x2="533.60" y2="124.74" stroke="#000" stroke-width="1"/>
<line x1="678.00" y1="124.74" x2="680.50" y2="124.74" stroke="#000" stroke-width="1"/>
<line x1="531.10" y1="122.70" x2="533.60" y2="122.70" stroke="#000" stroke-width="1"/>
<line x1="678.00" y1="122.70" x2="680.50" y2="122.70" stroke="#000" stroke-width="1"/>
<line x1="531.10" y1="121.02" x2="533.60" y2="121.02" stroke="#000" stroke-width="1"/>
<line x1="678.00" y1="121.02" x2="680.50" y2="121.02" stroke="#000" stroke-width="1"/>
<line x1="531.10" y1="119.61" x2="533.60" y2="119.61" stroke="#000" stroke-width="1"/>
<line x1="678.00" y1="119.61" x2="680.50" y2="119.61" stroke="#000" stroke-width="1"/>
<line x1="531.10" y1="118.38" x2="533.60" y2="118.38" stroke="#000" stroke-width="1"/>
<line x1="678.00" y1="118.38" x2="680.50" y2="118.38" stroke="#000" stroke-width="1"/>
<line x1="531.10" y1="117.30" x2="533.60" y2="117.30" stroke="#000" stroke-width="1"/>
<line x1="678.00" y1="117.30" x2="680.50" y2="117.30" stroke="#000" stroke-width="1"/>
<line x1="531.10" y1="116.33" x2="533.60" y2="116.33" stroke="#000" stroke-width="1"/>
<line x1="678.00" y1="116.33" x2="680.50" y2="116.33" stroke="#000" stroke-width="1"/>
<line x1="531.10" y1="109.97" x2="533.60" y2="109.97" stroke="#000" stroke-width="1"/>
<line x1="678.00" y1="109.97" x2="680.50" y2="109.97" stroke="#000" stroke-width="1"/>
<line x1="531.10" y1="106.25" x2="533.60" y2="106.25" stroke="#000" stroke-width="1"/>
<line x1="678.00" y1="106.25" x2="680.50" y2="106.25" stroke="#000" stroke-width="1"/>
<line x1="531.10" y1="103.61" x2="533.60" y2="103.61" stroke="#000" stroke-width="1"/>
<line x1="678.00" y1="103.61" x2="680.50" y2="103.61" stroke="#000" stroke-width="1"/>
<line x1="531.10" y1="101.56" x2="533.60" y2="101.56" stroke="#000" stroke-width="1"/>
<line x1="678.00" y1="101.56" x2="680.50" y2="101.56" stroke="#000" stroke-width="1"/>
<line x1="531.10" y1="99.89" x2="533.60" y2="99.89" stroke="#000" stroke-width="1"/>
<line x1="678.00" y1="99.89" x2="680.50" y2="99.89" stroke="#000" stroke-width="1"/>
<line x1="531.10" y1="98.47" x2="533.60" y2="98.47" stroke="#000" stroke-width="1"/>
<line x1="678.00" y1="98.47" x2="680.50" y2="98.47" stroke="#000" stroke-width="1"/>
<line x1="531.10" y1="97.25" x2="533.60" y2="97.25" stroke="#000" stroke-width="1"/>
<line x1="678.00" y1="97.25" x2="680.50" y2="97.25" stroke="#000" stroke-width="1"/>
<line x1="531.10" y1="96.17" x2="533.60" y2="96.17" stroke="#000" stroke-width="1"/>
<line x1="678.00" y1="96.17" x2="680.50" y2="96.17" stroke="#000" stroke-width="1"/>
<line x1="528.60" y1="95.20" x2="533.60" y2="95.20" stroke="#000" stroke-width="1"/>
<line x1="678.00" y1="95.20" x2="683.00" y2="95.20" stroke="#000" stroke-width="1"/>
<line x1="531.10" y1="88.84" x2="533.60" y2="88.84" stroke="#000" stroke-width="1"/>
<line x1="678.00" y1="88.84" x2="680.50" y2="88.84" stroke="#000" stroke-width="1"/>
<line x1="531.10" y1="85.12" x2="533.60" y2="85.12" stroke="#000" stroke-width="1"/>
<line x1="678.00" y1="85.12" x2="680.50" y2="85.12" stroke="#000" stroke-width="1"/>
<line x1="531.10" y1="82.48" x2="533.60" y2="82.48" stroke="#000" stroke-width="1"/>
<line x1="678.00" y1="82.48" x2="680.50" y2="82.48" stroke="#000" stroke-width="1"/>
<line x1="531.10" y1="80.43" x2="533.60" y2="80.43" stroke="#000" stroke-width="1"/>
<line x1="678.00" y1="80.43" x2="680.50" y2="80.43" stroke="#000" stroke-width="1"/>
<line x1="531.10" y1="78.76" x2="533.60" y2="78.76" stroke="#000" stroke-width="1"/>
<line x1="678.00" y1="78.76" x2="680.50" y2="78.76" stroke="#000" stroke-width="1"/>
<line x1="531.10" y1="77.34" x2="533.60" y2="77.34" stroke="#000" stroke-width="1"/>
<line x1="678.00" y1="77.34" x2="680.50" y2="77.34" stroke="#000" stroke-width="1"/>
<line x1="531.10" y1="76.11" x2="533.60" y2="76.11" stroke="#000" stroke-width="1"/>
<line x1="678.00" y1="76.11" x2="680.50" y2="76.11" stroke="#000" stroke-width="1"/>
<line x1="531.10" y1="75.03" x2="533.60" y2="75.03" stroke="#000" stroke-width="1"/>
<line x1="678.00" y1="75.03" x2="680.50" y2="75.03" stroke="#000" stroke-width="1"/>
<line x1="531.10" y1="74.07" x2="533.60" y2="74.07" stroke="#000" stroke-width="1"/>
<line x1="678.00" y1="74.07" x2="680.50" y2="74.07" stroke="#000" stroke-width="1"/>
<line x1="531.10" y1="67.70" x2="533.60" y2="67.70" stroke="#000" stroke-width="1"/>
<line x1="678.00" y1="67.70" x2="680.50" y2="67.70" stroke="#000" stroke-width="1"/>
<line x1="531.10" y1="63.98" x2="533.60" y2="63.98" stroke="#000" stroke-width="1"/>
<line x1="678.00" y1="63.98" x2="680.50" y2="63.98" stroke="#000" stroke-width="1"/>
<line x1="531.10" y1="61.34" x2="533.60" y2="61.34" stroke="#000" stroke-width="1"/>
<line x1="678.00" y1="61.34" x2="680.50" y2="61.34" stroke="#000" stroke-width="1"/>
<line x1="531.10" y1="59.30" x2="533.60" y2="59.30" stroke="#000" stroke-width="1"/>
<line x1="678.00" y1="59.30" x2="680.50" y2="59.30" stroke="#000" stroke-width="1"/>
<line x1="531.10" y1="57.62" x2="533.60" y2="57.62" stroke="#000" stroke-width="1"/>
<line x1="678.00" y1="57.62" x2="680.50" y2="57.62" stroke="#000" stroke-width="1"/>
<line x1="531.10" y1="56.21" x2="533.60" y2="56.21" stroke="#000" stroke-width="1"/>
<line x1="678.00" y1="56.21" x2="680.50" y2="56.21" stroke="#000" stroke-width="1"/>
<line x1="531.10" y1="54.98" x2="533.60" y2="54.98" stroke="#000" stroke-width="1"/>
<line x1="678.00" y1="54.98" x2="680.50" y2="54.98" stroke="#000" stroke-width="1"/>
<line x1="531.10" y1="53.90" x2="533.60" y2="53.90" stroke="#000" stroke-width="1"/>
<line x1="678.00" y1="53.90" x2="680.50" y2="53.90" stroke="#000" stroke-width="1"/>
<line x1="531.10" y1="52.93" x2="533.60" y2="52.93" stroke="#000" stroke-width="1"/>
<line x1="678.00" y1="52.93" x2="680.50" y2="52.93" stroke="#000" stroke-width="1"/>
<line x1="531.10" y1="46.57" x2="533.60" y2="46.57" stroke="#000" stroke-width="1"/>
<line x1="678.00" y1="46.57" x2="680.50" y2="46.57" stroke="#000" stroke-width="1"/>
<line x1="531.10" y1="42.85" x2="533.60" y2="42.85" stroke="#000" stroke-width="1"/>
<line x1="678.00" y1="42.85" x2="680.50" y2="42.85" stroke="#000" stroke-width="1"/>
<line x1="531.10" y1="40.21" x2="533.60" y2="40.21" stroke="#000" stroke-width="1"/>
<line x1="678.00" y1="40.21" x2="680.50" y2="40.21" stroke="#000" stroke-width="1"/>
<line x1="531.10" y1="38.16" x2="533.60" y2="38.16" stroke="#000" stroke-width="1"/>
<line x1="678.00" y1="38.16" x2="680.50" y2="38.16" stroke="#000" stroke-width="1"/>
<line x1="531.10" y1="36.49" x2="533.60" y2="36.49" stroke="#000" stroke-width="1"/>
<line x1="678.00" y1="36.49" x2="680.50" y2="36.49" stroke="#000" stroke-width="1"/>
<line x1="531.10" y1="35.07" x2="533.60" y2="35.07" stroke="#000" stroke-width="1"/>
<line x1="678.00" y1="35.07" x2="680.50" y2="35.07" stroke="#000" stroke-width="1"/>
<line x1="531.10" y1="33.85" x2="533.60" y2="33.85" stroke="#000" stroke-width="1"/>
<line x1="678.00" y1="33.85" x2="680.50" y2="33.85" stroke="#000" stroke-width="1"/>
<line x1="531.10" y1="32.77" x2="533.60" y2="32.77" stroke="#000" stroke-width="1"/>
<line x1="678.00" y1="32.77" x2="680.50" y2="32.77" stroke="#000" stroke-width="1"/>
<line x1="528.60" y1="31.80" x2="533.60" y2="31.80" stroke="#000" stroke-width="1"/>
<line x1="678.00" y1="31.80" x2="683.00" y2="31.80" stroke="#000" stroke-width="1"/>
<text transform="translate(524.20,37.20) scale(1,1.06)" font-size="13.1" text-anchor="end">10<tspan dy="-3.7" font-size="10">−3</tspan></text>
<text transform="translate(524.20,100.60) scale(1,1.06)" font-size="13.1" text-anchor="end">10<tspan dy="-3.7" font-size="10">−6</tspan></text>
<text transform="translate(524.20,164.00) scale(1,1.06)" font-size="13.1" text-anchor="end">10<tspan dy="-3.7" font-size="10">−9</tspan></text>
<text transform="translate(524.20,227.40) scale(1,1.06)" font-size="13.1" text-anchor="end">10<tspan dy="-3.7" font-size="10">−12</tspan></text>
<line x1="534.60" y1="223.00" x2="534.60" y2="228.00" stroke="#000" stroke-width="1"/>
<line x1="534.60" y1="30.80" x2="534.60" y2="25.80" stroke="#000" stroke-width="1"/>
<line x1="552.30" y1="223.00" x2="552.30" y2="225.50" stroke="#000" stroke-width="1"/>
<line x1="552.30" y1="30.80" x2="552.30" y2="28.30" stroke="#000" stroke-width="1"/>
<line x1="575.70" y1="223.00" x2="575.70" y2="225.50" stroke="#000" stroke-width="1"/>
<line x1="575.70" y1="30.80" x2="575.70" y2="28.30" stroke="#000" stroke-width="1"/>
<line x1="593.40" y1="223.00" x2="593.40" y2="228.00" stroke="#000" stroke-width="1"/>
<line x1="593.40" y1="30.80" x2="593.40" y2="25.80" stroke="#000" stroke-width="1"/>
<line x1="611.10" y1="223.00" x2="611.10" y2="225.50" stroke="#000" stroke-width="1"/>
<line x1="611.10" y1="30.80" x2="611.10" y2="28.30" stroke="#000" stroke-width="1"/>
<line x1="634.50" y1="223.00" x2="634.50" y2="225.50" stroke="#000" stroke-width="1"/>
<line x1="634.50" y1="30.80" x2="634.50" y2="28.30" stroke="#000" stroke-width="1"/>
<line x1="652.20" y1="223.00" x2="652.20" y2="228.00" stroke="#000" stroke-width="1"/>
<line x1="652.20" y1="30.80" x2="652.20" y2="25.80" stroke="#000" stroke-width="1"/>
<line x1="669.90" y1="223.00" x2="669.90" y2="225.50" stroke="#000" stroke-width="1"/>
<line x1="669.90" y1="30.80" x2="669.90" y2="28.30" stroke="#000" stroke-width="1"/>
<text transform="translate(534.60,241.60) scale(1,1.06)" font-size="13.1" text-anchor="middle">0.1</text>
<text transform="translate(593.40,241.60) scale(1,1.06)" font-size="13.1" text-anchor="middle">1</text>
<text transform="translate(652.20,241.60) scale(1,1.06)" font-size="13.1" text-anchor="middle">10</text>
<text transform="translate(605.90,263.20) scale(1,1.08)" font-size="19.1" text-anchor="middle">Frequency (Hz)</text>
<text transform="translate(544.90,53.70) scale(1,1.05)" font-size="16.9" text-anchor="start">(b)</text>
<text transform="translate(484.90,126.95) rotate(-90) scale(1,1.08)" font-size="19.1" text-anchor="middle">Displacement amplitude (m)</text>
<polyline points="552.20,412.60 563.20,414.50 574.60,417.10 586.00,420.90 596.60,424.40 600.00,426.40 603.50,429.90 608.20,435.80 612.30,436.90 618.70,442.20 622.20,443.40 626.30,445.90 630.40,442.20 632.10,445.70 635.00,463.20 638.50,457.40 640.90,458.50 644.40,466.70 649.10,463.20 653.70,466.70 658.40,474.30 660.70,466.10 663.10,471.40 664.80,467.90 666.00,476.60 668.30,471.40 670.70,463.80 673.00,473.10 675.30,474.30 677.00,472.00" fill="none" stroke="#666" stroke-width="2.2" stroke-linejoin="round"/>
<polyline points="552.00,393.40 568.40,396.30 580.80,396.70 588.10,397.40 595.00,402.20 601.60,404.70 609.60,401.80 614.70,404.30 617.60,402.50 624.20,397.80 629.30,400.70 632.20,409.10 634.40,414.60 635.90,409.10 638.40,400.50 641.00,404.70 643.90,412.00 645.00,415.80 650.00,413.70 656.60,421.20 661.60,436.60 668.30,438.30 670.80,447.40 675.80,449.90 677.00,452.00" fill="none" stroke="#f00" stroke-width="2.2" stroke-linejoin="round"/>
<polyline points="552.00,395.80 569.90,397.80 580.80,397.60 588.10,398.50 595.00,400.30 601.60,402.20 609.60,400.00 616.90,401.40 624.20,393.40 628.60,397.80 634.40,407.60 636.20,404.70 638.40,400.70 641.00,405.40 643.90,412.70 646.60,408.70 650.00,415.80 654.10,420.00 657.50,422.50 660.80,430.00 665.80,437.40 669.10,440.80 672.40,444.10 675.80,451.60 677.00,462.00" fill="none" stroke="#00f" stroke-width="2.2" stroke-linejoin="round"/>
<polyline points="552.00,398.90 569.90,400.50 584.50,400.70 595.00,402.50 601.60,402.90 609.60,401.10 616.90,402.20 624.20,398.10 628.60,398.90 632.20,402.90 635.90,406.90 638.80,405.80 642.40,416.40 645.80,412.50 648.30,419.10 650.80,416.60 653.30,425.00 655.80,426.60 657.50,431.60 660.00,431.60 662.50,434.90 665.40,444.90 667.00,441.60 668.30,447.40 670.80,444.10 672.40,445.80 674.10,453.20 676.20,460.70 677.00,462.00" fill="none" stroke="#0f0" stroke-width="2.2" stroke-linejoin="round"/>
<rect x="534.60" y="317.30" width="142.40" height="190.20" fill="none" stroke="#000" stroke-width="2"/>
<line x1="528.60" y1="507.50" x2="533.60" y2="507.50" stroke="#000" stroke-width="1"/>
<line x1="678.00" y1="507.50" x2="683.00" y2="507.50" stroke="#000" stroke-width="1"/>
<line x1="531.10" y1="501.14" x2="533.60" y2="501.14" stroke="#000" stroke-width="1"/>
<line x1="678.00" y1="501.14" x2="680.50" y2="501.14" stroke="#000" stroke-width="1"/>
<line x1="531.10" y1="497.42" x2="533.60" y2="497.42" stroke="#000" stroke-width="1"/>
<line x1="678.00" y1="497.42" x2="680.50" y2="497.42" stroke="#000" stroke-width="1"/>
<line x1="531.10" y1="494.78" x2="533.60" y2="494.78" stroke="#000" stroke-width="1"/>
<line x1="678.00" y1="494.78" x2="680.50" y2="494.78" stroke="#000" stroke-width="1"/>
<line x1="531.10" y1="492.73" x2="533.60" y2="492.73" stroke="#000" stroke-width="1"/>
<line x1="678.00" y1="492.73" x2="680.50" y2="492.73" stroke="#000" stroke-width="1"/>
<line x1="531.10" y1="491.06" x2="533.60" y2="491.06" stroke="#000" stroke-width="1"/>
<line x1="678.00" y1="491.06" x2="680.50" y2="491.06" stroke="#000" stroke-width="1"/>
<line x1="531.10" y1="489.64" x2="533.60" y2="489.64" stroke="#000" stroke-width="1"/>
<line x1="678.00" y1="489.64" x2="680.50" y2="489.64" stroke="#000" stroke-width="1"/>
<line x1="531.10" y1="488.41" x2="533.60" y2="488.41" stroke="#000" stroke-width="1"/>
<line x1="678.00" y1="488.41" x2="680.50" y2="488.41" stroke="#000" stroke-width="1"/>
<line x1="531.10" y1="487.33" x2="533.60" y2="487.33" stroke="#000" stroke-width="1"/>
<line x1="678.00" y1="487.33" x2="680.50" y2="487.33" stroke="#000" stroke-width="1"/>
<line x1="531.10" y1="486.37" x2="533.60" y2="486.37" stroke="#000" stroke-width="1"/>
<line x1="678.00" y1="486.37" x2="680.50" y2="486.37" stroke="#000" stroke-width="1"/>
<line x1="531.10" y1="480.00" x2="533.60" y2="480.00" stroke="#000" stroke-width="1"/>
<line x1="678.00" y1="480.00" x2="680.50" y2="480.00" stroke="#000" stroke-width="1"/>
<line x1="531.10" y1="476.28" x2="533.60" y2="476.28" stroke="#000" stroke-width="1"/>
<line x1="678.00" y1="476.28" x2="680.50" y2="476.28" stroke="#000" stroke-width="1"/>
<line x1="531.10" y1="473.64" x2="533.60" y2="473.64" stroke="#000" stroke-width="1"/>
<line x1="678.00" y1="473.64" x2="680.50" y2="473.64" stroke="#000" stroke-width="1"/>
<line x1="531.10" y1="471.60" x2="533.60" y2="471.60" stroke="#000" stroke-width="1"/>
<line x1="678.00" y1="471.60" x2="680.50" y2="471.60" stroke="#000" stroke-width="1"/>
<line x1="531.10" y1="469.92" x2="533.60" y2="469.92" stroke="#000" stroke-width="1"/>
<line x1="678.00" y1="469.92" x2="680.50" y2="469.92" stroke="#000" stroke-width="1"/>
<line x1="531.10" y1="468.51" x2="533.60" y2="468.51" stroke="#000" stroke-width="1"/>
<line x1="678.00" y1="468.51" x2="680.50" y2="468.51" stroke="#000" stroke-width="1"/>
<line x1="531.10" y1="467.28" x2="533.60" y2="467.28" stroke="#000" stroke-width="1"/>
<line x1="678.00" y1="467.28" x2="680.50" y2="467.28" stroke="#000" stroke-width="1"/>
<line x1="531.10" y1="466.20" x2="533.60" y2="466.20" stroke="#000" stroke-width="1"/>
<line x1="678.00" y1="466.20" x2="680.50" y2="466.20" stroke="#000" stroke-width="1"/>
<line x1="531.10" y1="465.23" x2="533.60" y2="465.23" stroke="#000" stroke-width="1"/>
<line x1="678.00" y1="465.23" x2="680.50" y2="465.23" stroke="#000" stroke-width="1"/>
<line x1="531.10" y1="458.87" x2="533.60" y2="458.87" stroke="#000" stroke-width="1"/>
<line x1="678.00" y1="458.87" x2="680.50" y2="458.87" stroke="#000" stroke-width="1"/>
<line x1="531.10" y1="455.15" x2="533.60" y2="455.15" stroke="#000" stroke-width="1"/>
<line x1="678.00" y1="455.15" x2="680.50" y2="455.15" stroke="#000" stroke-width="1"/>
<line x1="531.10" y1="452.51" x2="533.60" y2="452.51" stroke="#000" stroke-width="1"/>
<line x1="678.00" y1="452.51" x2="680.50" y2="452.51" stroke="#000" stroke-width="1"/>
<line x1="531.10" y1="450.46" x2="533.60" y2="450.46" stroke="#000" stroke-width="1"/>
<line x1="678.00" y1="450.46" x2="680.50" y2="450.46" stroke="#000" stroke-width="1"/>
<line x1="531.10" y1="448.79" x2="533.60" y2="448.79" stroke="#000" stroke-width="1"/>
<line x1="678.00" y1="448.79" x2="680.50" y2="448.79" stroke="#000" stroke-width="1"/>
<line x1="531.10" y1="447.37" x2="533.60" y2="447.37" stroke="#000" stroke-width="1"/>
<line x1="678.00" y1="447.37" x2="680.50" y2="447.37" stroke="#000" stroke-width="1"/>
<line x1="531.10" y1="446.15" x2="533.60" y2="446.15" stroke="#000" stroke-width="1"/>
<line x1="678.00" y1="446.15" x2="680.50" y2="446.15" stroke="#000" stroke-width="1"/>
<line x1="531.10" y1="445.07" x2="533.60" y2="445.07" stroke="#000" stroke-width="1"/>
<line x1="678.00" y1="445.07" x2="680.50" y2="445.07" stroke="#000" stroke-width="1"/>
<line x1="528.60" y1="444.10" x2="533.60" y2="444.10" stroke="#000" stroke-width="1"/>
<line x1="678.00" y1="444.10" x2="683.00" y2="444.10" stroke="#000" stroke-width="1"/>
<line x1="531.10" y1="437.74" x2="533.60" y2="437.74" stroke="#000" stroke-width="1"/>
<line x1="678.00" y1="437.74" x2="680.50" y2="437.74" stroke="#000" stroke-width="1"/>
<line x1="531.10" y1="434.02" x2="533.60" y2="434.02" stroke="#000" stroke-width="1"/>
<line x1="678.00" y1="434.02" x2="680.50" y2="434.02" stroke="#000" stroke-width="1"/>
<line x1="531.10" y1="431.38" x2="533.60" y2="431.38" stroke="#000" stroke-width="1"/>
<line x1="678.00" y1="431.38" x2="680.50" y2="431.38" stroke="#000" stroke-width="1"/>
<line x1="531.10" y1="429.33" x2="533.60" y2="429.33" stroke="#000" stroke-width="1"/>
<line x1="678.00" y1="429.33" x2="680.50" y2="429.33" stroke="#000" stroke-width="1"/>
<line x1="531.10" y1="427.66" x2="533.60" y2="427.66" stroke="#000" stroke-width="1"/>
<line x1="678.00" y1="427.66" x2="680.50" y2="427.66" stroke="#000" stroke-width="1"/>
<line x1="531.10" y1="426.24" x2="533.60" y2="426.24" stroke="#000" stroke-width="1"/>
<line x1="678.00" y1="426.24" x2="680.50" y2="426.24" stroke="#000" stroke-width="1"/>
<line x1="531.10" y1="425.01" x2="533.60" y2="425.01" stroke="#000" stroke-width="1"/>
<line x1="678.00" y1="425.01" x2="680.50" y2="425.01" stroke="#000" stroke-width="1"/>
<line x1="531.10" y1="423.93" x2="533.60" y2="423.93" stroke="#000" stroke-width="1"/>
<line x1="678.00" y1="423.93" x2="680.50" y2="423.93" stroke="#000" stroke-width="1"/>
<line x1="531.10" y1="422.97" x2="533.60" y2="422.97" stroke="#000" stroke-width="1"/>
<line x1="678.00" y1="422.97" x2="680.50" y2="422.97" stroke="#000" stroke-width="1"/>
<line x1="531.10" y1="416.60" x2="533.60" y2="416.60" stroke="#000" stroke-width="1"/>
<line x1="678.00" y1="416.60" x2="680.50" y2="416.60" stroke="#000" stroke-width="1"/>
<line x1="531.10" y1="412.88" x2="533.60" y2="412.88" stroke="#000" stroke-width="1"/>
<line x1="678.00" y1="412.88" x2="680.50" y2="412.88" stroke="#000" stroke-width="1"/>
<line x1="531.10" y1="410.24" x2="533.60" y2="410.24" stroke="#000" stroke-width="1"/>
<line x1="678.00" y1="410.24" x2="680.50" y2="410.24" stroke="#000" stroke-width="1"/>
<line x1="531.10" y1="408.20" x2="533.60" y2="408.20" stroke="#000" stroke-width="1"/>
<line x1="678.00" y1="408.20" x2="680.50" y2="408.20" stroke="#000" stroke-width="1"/>
<line x1="531.10" y1="406.52" x2="533.60" y2="406.52" stroke="#000" stroke-width="1"/>
<line x1="678.00" y1="406.52" x2="680.50" y2="406.52" stroke="#000" stroke-width="1"/>
<line x1="531.10" y1="405.11" x2="533.60" y2="405.11" stroke="#000" stroke-width="1"/>
<line x1="678.00" y1="405.11" x2="680.50" y2="405.11" stroke="#000" stroke-width="1"/>
<line x1="531.10" y1="403.88" x2="533.60" y2="403.88" stroke="#000" stroke-width="1"/>
<line x1="678.00" y1="403.88" x2="680.50" y2="403.88" stroke="#000" stroke-width="1"/>
<line x1="531.10" y1="402.80" x2="533.60" y2="402.80" stroke="#000" stroke-width="1"/>
<line x1="678.00" y1="402.80" x2="680.50" y2="402.80" stroke="#000" stroke-width="1"/>
<line x1="531.10" y1="401.83" x2="533.60" y2="401.83" stroke="#000" stroke-width="1"/>
<line x1="678.00" y1="401.83" x2="680.50" y2="401.83" stroke="#000" stroke-width="1"/>
<line x1="531.10" y1="395.47" x2="533.60" y2="395.47" stroke="#000" stroke-width="1"/>
<line x1="678.00" y1="395.47" x2="680.50" y2="395.47" stroke="#000" stroke-width="1"/>
<line x1="531.10" y1="391.75" x2="533.60" y2="391.75" stroke="#000" stroke-width="1"/>
<line x1="678.00" y1="391.75" x2="680.50" y2="391.75" stroke="#000" stroke-width="1"/>
<line x1="531.10" y1="389.11" x2="533.60" y2="389.11" stroke="#000" stroke-width="1"/>
<line x1="678.00" y1="389.11" x2="680.50" y2="389.11" stroke="#000" stroke-width="1"/>
<line x1="531.10" y1="387.06" x2="533.60" y2="387.06" stroke="#000" stroke-width="1"/>
<line x1="678.00" y1="387.06" x2="680.50" y2="387.06" stroke="#000" stroke-width="1"/>
<line x1="531.10" y1="385.39" x2="533.60" y2="385.39" stroke="#000" stroke-width="1"/>
<line x1="678.00" y1="385.39" x2="680.50" y2="385.39" stroke="#000" stroke-width="1"/>
<line x1="531.10" y1="383.97" x2="533.60" y2="383.97" stroke="#000" stroke-width="1"/>
<line x1="678.00" y1="383.97" x2="680.50" y2="383.97" stroke="#000" stroke-width="1"/>
<line x1="531.10" y1="382.75" x2="533.60" y2="382.75" stroke="#000" stroke-width="1"/>
<line x1="678.00" y1="382.75" x2="680.50" y2="382.75" stroke="#000" stroke-width="1"/>
<line x1="531.10" y1="381.67" x2="533.60" y2="381.67" stroke="#000" stroke-width="1"/>
<line x1="678.00" y1="381.67" x2="680.50" y2="381.67" stroke="#000" stroke-width="1"/>
<line x1="528.60" y1="380.70" x2="533.60" y2="380.70" stroke="#000" stroke-width="1"/>
<line x1="678.00" y1="380.70" x2="683.00" y2="380.70" stroke="#000" stroke-width="1"/>
<line x1="531.10" y1="374.34" x2="533.60" y2="374.34" stroke="#000" stroke-width="1"/>
<line x1="678.00" y1="374.34" x2="680.50" y2="374.34" stroke="#000" stroke-width="1"/>
<line x1="531.10" y1="370.62" x2="533.60" y2="370.62" stroke="#000" stroke-width="1"/>
<line x1="678.00" y1="370.62" x2="680.50" y2="370.62" stroke="#000" stroke-width="1"/>
<line x1="531.10" y1="367.98" x2="533.60" y2="367.98" stroke="#000" stroke-width="1"/>
<line x1="678.00" y1="367.98" x2="680.50" y2="367.98" stroke="#000" stroke-width="1"/>
<line x1="531.10" y1="365.93" x2="533.60" y2="365.93" stroke="#000" stroke-width="1"/>
<line x1="678.00" y1="365.93" x2="680.50" y2="365.93" stroke="#000" stroke-width="1"/>
<line x1="531.10" y1="364.26" x2="533.60" y2="364.26" stroke="#000" stroke-width="1"/>
<line x1="678.00" y1="364.26" x2="680.50" y2="364.26" stroke="#000" stroke-width="1"/>
<line x1="531.10" y1="362.84" x2="533.60" y2="362.84" stroke="#000" stroke-width="1"/>
<line x1="678.00" y1="362.84" x2="680.50" y2="362.84" stroke="#000" stroke-width="1"/>
<line x1="531.10" y1="361.61" x2="533.60" y2="361.61" stroke="#000" stroke-width="1"/>
<line x1="678.00" y1="361.61" x2="680.50" y2="361.61" stroke="#000" stroke-width="1"/>
<line x1="531.10" y1="360.53" x2="533.60" y2="360.53" stroke="#000" stroke-width="1"/>
<line x1="678.00" y1="360.53" x2="680.50" y2="360.53" stroke="#000" stroke-width="1"/>
<line x1="531.10" y1="359.57" x2="533.60" y2="359.57" stroke="#000" stroke-width="1"/>
<line x1="678.00" y1="359.57" x2="680.50" y2="359.57" stroke="#000" stroke-width="1"/>
<line x1="531.10" y1="353.20" x2="533.60" y2="353.20" stroke="#000" stroke-width="1"/>
<line x1="678.00" y1="353.20" x2="680.50" y2="353.20" stroke="#000" stroke-width="1"/>
<line x1="531.10" y1="349.48" x2="533.60" y2="349.48" stroke="#000" stroke-width="1"/>
<line x1="678.00" y1="349.48" x2="680.50" y2="349.48" stroke="#000" stroke-width="1"/>
<line x1="531.10" y1="346.84" x2="533.60" y2="346.84" stroke="#000" stroke-width="1"/>
<line x1="678.00" y1="346.84" x2="680.50" y2="346.84" stroke="#000" stroke-width="1"/>
<line x1="531.10" y1="344.80" x2="533.60" y2="344.80" stroke="#000" stroke-width="1"/>
<line x1="678.00" y1="344.80" x2="680.50" y2="344.80" stroke="#000" stroke-width="1"/>
<line x1="531.10" y1="343.12" x2="533.60" y2="343.12" stroke="#000" stroke-width="1"/>
<line x1="678.00" y1="343.12" x2="680.50" y2="343.12" stroke="#000" stroke-width="1"/>
<line x1="531.10" y1="341.71" x2="533.60" y2="341.71" stroke="#000" stroke-width="1"/>
<line x1="678.00" y1="341.71" x2="680.50" y2="341.71" stroke="#000" stroke-width="1"/>
<line x1="531.10" y1="340.48" x2="533.60" y2="340.48" stroke="#000" stroke-width="1"/>
<line x1="678.00" y1="340.48" x2="680.50" y2="340.48" stroke="#000" stroke-width="1"/>
<line x1="531.10" y1="339.40" x2="533.60" y2="339.40" stroke="#000" stroke-width="1"/>
<line x1="678.00" y1="339.40" x2="680.50" y2="339.40" stroke="#000" stroke-width="1"/>
<line x1="531.10" y1="338.43" x2="533.60" y2="338.43" stroke="#000" stroke-width="1"/>
<line x1="678.00" y1="338.43" x2="680.50" y2="338.43" stroke="#000" stroke-width="1"/>
<line x1="531.10" y1="332.07" x2="533.60" y2="332.07" stroke="#000" stroke-width="1"/>
<line x1="678.00" y1="332.07" x2="680.50" y2="332.07" stroke="#000" stroke-width="1"/>
<line x1="531.10" y1="328.35" x2="533.60" y2="328.35" stroke="#000" stroke-width="1"/>
<line x1="678.00" y1="328.35" x2="680.50" y2="328.35" stroke="#000" stroke-width="1"/>
<line x1="531.10" y1="325.71" x2="533.60" y2="325.71" stroke="#000" stroke-width="1"/>
<line x1="678.00" y1="325.71" x2="680.50" y2="325.71" stroke="#000" stroke-width="1"/>
<line x1="531.10" y1="323.66" x2="533.60" y2="323.66" stroke="#000" stroke-width="1"/>
<line x1="678.00" y1="323.66" x2="680.50" y2="323.66" stroke="#000" stroke-width="1"/>
<line x1="531.10" y1="321.99" x2="533.60" y2="321.99" stroke="#000" stroke-width="1"/>
<line x1="678.00" y1="321.99" x2="680.50" y2="321.99" stroke="#000" stroke-width="1"/>
<line x1="531.10" y1="320.57" x2="533.60" y2="320.57" stroke="#000" stroke-width="1"/>
<line x1="678.00" y1="320.57" x2="680.50" y2="320.57" stroke="#000" stroke-width="1"/>
<line x1="531.10" y1="319.35" x2="533.60" y2="319.35" stroke="#000" stroke-width="1"/>
<line x1="678.00" y1="319.35" x2="680.50" y2="319.35" stroke="#000" stroke-width="1"/>
<line x1="531.10" y1="318.27" x2="533.60" y2="318.27" stroke="#000" stroke-width="1"/>
<line x1="678.00" y1="318.27" x2="680.50" y2="318.27" stroke="#000" stroke-width="1"/>
<line x1="528.60" y1="317.30" x2="533.60" y2="317.30" stroke="#000" stroke-width="1"/>
<line x1="678.00" y1="317.30" x2="683.00" y2="317.30" stroke="#000" stroke-width="1"/>
<text transform="translate(524.20,322.70) scale(1,1.06)" font-size="13.1" text-anchor="end">10<tspan dy="-3.7" font-size="10">−3</tspan></text>
<text transform="translate(524.20,386.10) scale(1,1.06)" font-size="13.1" text-anchor="end">10<tspan dy="-3.7" font-size="10">−6</tspan></text>
<text transform="translate(524.20,449.50) scale(1,1.06)" font-size="13.1" text-anchor="end">10<tspan dy="-3.7" font-size="10">−9</tspan></text>
<text transform="translate(524.20,512.90) scale(1,1.06)" font-size="13.1" text-anchor="end">10<tspan dy="-3.7" font-size="10">−12</tspan></text>
<line x1="534.60" y1="508.50" x2="534.60" y2="513.50" stroke="#000" stroke-width="1"/>
<line x1="534.60" y1="316.30" x2="534.60" y2="311.30" stroke="#000" stroke-width="1"/>
<line x1="552.30" y1="508.50" x2="552.30" y2="511.00" stroke="#000" stroke-width="1"/>
<line x1="552.30" y1="316.30" x2="552.30" y2="313.80" stroke="#000" stroke-width="1"/>
<line x1="575.70" y1="508.50" x2="575.70" y2="511.00" stroke="#000" stroke-width="1"/>
<line x1="575.70" y1="316.30" x2="575.70" y2="313.80" stroke="#000" stroke-width="1"/>
<line x1="593.40" y1="508.50" x2="593.40" y2="513.50" stroke="#000" stroke-width="1"/>
<line x1="593.40" y1="316.30" x2="593.40" y2="311.30" stroke="#000" stroke-width="1"/>
<line x1="611.10" y1="508.50" x2="611.10" y2="511.00" stroke="#000" stroke-width="1"/>
<line x1="611.10" y1="316.30" x2="611.10" y2="313.80" stroke="#000" stroke-width="1"/>
<line x1="634.50" y1="508.50" x2="634.50" y2="511.00" stroke="#000" stroke-width="1"/>
<line x1="634.50" y1="316.30" x2="634.50" y2="313.80" stroke="#000" stroke-width="1"/>
<line x1="652.20" y1="508.50" x2="652.20" y2="513.50" stroke="#000" stroke-width="1"/>
<line x1="652.20" y1="316.30" x2="652.20" y2="311.30" stroke="#000" stroke-width="1"/>
<line x1="669.90" y1="508.50" x2="669.90" y2="511.00" stroke="#000" stroke-width="1"/>
<line x1="669.90" y1="316.30" x2="669.90" y2="313.80" stroke="#000" stroke-width="1"/>
<text transform="translate(534.60,527.10) scale(1,1.06)" font-size="13.1" text-anchor="middle">0.1</text>
<text transform="translate(593.40,527.10) scale(1,1.06)" font-size="13.1" text-anchor="middle">1</text>
<text transform="translate(652.20,527.10) scale(1,1.06)" font-size="13.1" text-anchor="middle">10</text>
<text transform="translate(605.90,548.70) scale(1,1.08)" font-size="19.1" text-anchor="middle">Frequency (Hz)</text>
<text transform="translate(544.90,337.80) scale(1,1.05)" font-size="16.9" text-anchor="start">(d)</text>
<text transform="translate(484.90,412.45) rotate(-90) scale(1,1.08)" font-size="19.1" text-anchor="middle">Displacement amplitude (m)</text>
<polyline points="134.20,679.10 147.65,678.70 161.10,681.00 174.55,682.10 188.00,684.30 201.45,691.50 214.90,705.60 228.35,713.90 241.80,711.50 255.25,711.50 268.70,709.60 282.15,706.30" fill="none" stroke="#f00" stroke-width="1.9" stroke-linejoin="round"/>
<polyline points="134.20,675.80 147.65,675.50 161.10,677.10 174.55,679.10 188.00,683.00 201.45,690.00 214.90,708.30 228.35,723.40 241.80,708.30 255.25,712.20 268.70,711.50 282.15,706.90" fill="none" stroke="#00f" stroke-width="1.9" stroke-linejoin="round"/>
<polyline points="134.20,671.60 147.65,673.10 161.10,674.50 174.55,674.70 188.00,681.00 201.45,688.50 214.90,716.80 228.35,718.80 241.80,708.30 255.25,712.90 268.70,712.60 282.15,705.00" fill="none" stroke="#0f0" stroke-width="1.9" stroke-linejoin="round"/>
<polyline points="60.20,672.83 61.39,672.83 62.58,672.83 63.76,672.83 64.95,672.83 66.14,672.83 67.33,672.83 68.52,672.83 69.71,672.83 70.89,672.83 72.08,672.83 73.27,672.83 74.46,672.83 75.65,672.83 76.83,672.83 78.02,672.83 79.21,672.83 80.40,672.83 81.59,672.83 82.77,672.83 83.96,672.83 85.15,672.83 86.34,672.83 87.53,672.83 88.72,672.83 89.90,672.83 91.09,672.83 92.28,672.83 93.47,672.83 94.66,672.83 95.84,672.83 97.03,672.83 98.22,672.83 99.41,672.83 100.60,672.83 101.78,672.83 102.97,672.83 104.16,672.83 105.35,672.83 106.54,672.83 107.73,672.83 108.91,672.83 110.10,672.83 111.29,672.84 112.48,672.84 113.67,672.84 114.85,672.84 116.04,672.84 117.23,672.84 118.42,672.84 119.61,672.85 120.79,672.85 121.98,672.85 123.17,672.86 124.36,672.86 125.55,672.86 126.74,672.87 127.92,672.87 129.11,672.88 130.30,672.88 131.49,672.89 132.68,672.90 133.86,672.91 135.05,672.92 136.24,672.93 137.43,672.94 138.62,672.95 139.80,672.97 140.99,672.99 142.18,673.01 143.37,673.03 144.56,673.05 145.75,673.08 146.93,673.10 148.12,673.14 149.31,673.17 150.50,673.21 151.69,673.26 152.87,673.31 154.06,673.36 155.25,673.43 156.44,673.49 157.63,673.57 158.81,673.66 160.00,673.75 161.19,673.85 162.38,673.97 163.57,674.10 164.76,674.24 165.94,674.40 167.13,674.57 168.32,674.76 169.51,674.97 170.70,675.19 171.88,675.45 173.07,675.72 174.26,676.02 175.45,676.35 176.64,676.70 177.82,677.09 179.01,677.50 180.20,677.95 181.39,678.44 182.58,678.96 183.77,679.51 184.95,680.10 186.14,680.72 187.33,681.39 188.52,682.08 189.71,682.81 190.89,683.58 192.08,684.37 193.27,685.20 194.46,686.05 195.65,686.93 196.83,687.83 198.02,688.75 199.21,689.69 200.40,690.63 201.59,691.59 202.78,692.55 203.96,693.51 205.15,694.47 206.34,695.41 207.53,696.35 208.72,697.28 209.90,698.18 211.09,699.07 212.28,699.93 213.47,700.76 214.66,701.57 215.84,702.34 217.03,703.08 218.22,703.79 219.41,704.46 220.60,705.10 221.79,705.70 222.97,706.26 224.16,706.79 225.35,707.28 226.54,707.74 227.73,708.17 228.91,708.56 230.10,708.93 231.29,709.26 232.48,709.57 233.67,709.85 234.85,710.11 236.04,710.34 237.23,710.56 238.42,710.75 239.61,710.93 240.80,711.09 241.98,711.23 243.17,711.37 244.36,711.49 245.55,711.59 246.74,711.69 247.92,711.78 249.11,711.86 250.30,711.93 251.49,711.99 252.68,712.05 253.86,712.10 255.05,712.15 256.24,712.19 257.43,712.22 258.62,712.26 259.81,712.29 260.99,712.31 262.18,712.34 263.37,712.36 264.56,712.38 265.75,712.40 266.93,712.41 268.12,712.43 269.31,712.44 270.50,712.45 271.69,712.46 272.87,712.47 274.06,712.48 275.25,712.48 276.44,712.49 277.63,712.50 278.82,712.50 280.00,712.51 281.19,712.51 282.38,712.51 283.57,712.52 284.76,712.52 285.94,712.52 287.13,712.53 288.32,712.53 289.51,712.53 290.70,712.53 291.88,712.53 293.07,712.53 294.26,712.54 295.45,712.54 296.64,712.54" fill="none" stroke="#000" stroke-width="1.2" stroke-linejoin="round"/>
<rect x="60.20" y="554.40" width="237.00" height="236.90" fill="none" stroke="#000" stroke-width="2"/>
<line x1="54.20" y1="791.30" x2="59.20" y2="791.30" stroke="#000" stroke-width="1"/>
<line x1="298.20" y1="791.30" x2="303.20" y2="791.30" stroke="#000" stroke-width="1"/>
<text transform="translate(49.30,796.10) scale(1,1.06)" font-size="13.1" text-anchor="end">−1</text>
<line x1="56.70" y1="777.76" x2="59.20" y2="777.76" stroke="#000" stroke-width="1"/>
<line x1="298.20" y1="777.76" x2="300.70" y2="777.76" stroke="#000" stroke-width="1"/>
<line x1="56.70" y1="764.22" x2="59.20" y2="764.22" stroke="#000" stroke-width="1"/>
<line x1="298.20" y1="764.22" x2="300.70" y2="764.22" stroke="#000" stroke-width="1"/>
<line x1="56.70" y1="750.68" x2="59.20" y2="750.68" stroke="#000" stroke-width="1"/>
<line x1="298.20" y1="750.68" x2="300.70" y2="750.68" stroke="#000" stroke-width="1"/>
<line x1="56.70" y1="737.14" x2="59.20" y2="737.14" stroke="#000" stroke-width="1"/>
<line x1="298.20" y1="737.14" x2="300.70" y2="737.14" stroke="#000" stroke-width="1"/>
<line x1="54.20" y1="723.60" x2="59.20" y2="723.60" stroke="#000" stroke-width="1"/>
<line x1="298.20" y1="723.60" x2="303.20" y2="723.60" stroke="#000" stroke-width="1"/>
<text transform="translate(49.30,728.40) scale(1,1.06)" font-size="13.1" text-anchor="end">0</text>
<line x1="56.70" y1="710.06" x2="59.20" y2="710.06" stroke="#000" stroke-width="1"/>
<line x1="298.20" y1="710.06" x2="300.70" y2="710.06" stroke="#000" stroke-width="1"/>
<line x1="56.70" y1="696.52" x2="59.20" y2="696.52" stroke="#000" stroke-width="1"/>
<line x1="298.20" y1="696.52" x2="300.70" y2="696.52" stroke="#000" stroke-width="1"/>
<line x1="56.70" y1="682.98" x2="59.20" y2="682.98" stroke="#000" stroke-width="1"/>
<line x1="298.20" y1="682.98" x2="300.70" y2="682.98" stroke="#000" stroke-width="1"/>
<line x1="56.70" y1="669.44" x2="59.20" y2="669.44" stroke="#000" stroke-width="1"/>
<line x1="298.20" y1="669.44" x2="300.70" y2="669.44" stroke="#000" stroke-width="1"/>
<line x1="54.20" y1="655.90" x2="59.20" y2="655.90" stroke="#000" stroke-width="1"/>
<line x1="298.20" y1="655.90" x2="303.20" y2="655.90" stroke="#000" stroke-width="1"/>
<text transform="translate(49.30,660.70) scale(1,1.06)" font-size="13.1" text-anchor="end">1</text>
<line x1="56.70" y1="642.36" x2="59.20" y2="642.36" stroke="#000" stroke-width="1"/>
<line x1="298.20" y1="642.36" x2="300.70" y2="642.36" stroke="#000" stroke-width="1"/>
<line x1="56.70" y1="628.82" x2="59.20" y2="628.82" stroke="#000" stroke-width="1"/>
<line x1="298.20" y1="628.82" x2="300.70" y2="628.82" stroke="#000" stroke-width="1"/>
<line x1="56.70" y1="615.28" x2="59.20" y2="615.28" stroke="#000" stroke-width="1"/>
<line x1="298.20" y1="615.28" x2="300.70" y2="615.28" stroke="#000" stroke-width="1"/>
<line x1="56.70" y1="601.74" x2="59.20" y2="601.74" stroke="#000" stroke-width="1"/>
<line x1="298.20" y1="601.74" x2="300.70" y2="601.74" stroke="#000" stroke-width="1"/>
<line x1="54.20" y1="588.20" x2="59.20" y2="588.20" stroke="#000" stroke-width="1"/>
<line x1="298.20" y1="588.20" x2="303.20" y2="588.20" stroke="#000" stroke-width="1"/>
<text transform="translate(49.30,593.00) scale(1,1.06)" font-size="13.1" text-anchor="end">2</text>
<line x1="56.70" y1="574.66" x2="59.20" y2="574.66" stroke="#000" stroke-width="1"/>
<line x1="298.20" y1="574.66" x2="300.70" y2="574.66" stroke="#000" stroke-width="1"/>
<line x1="56.70" y1="561.12" x2="59.20" y2="561.12" stroke="#000" stroke-width="1"/>
<line x1="298.20" y1="561.12" x2="300.70" y2="561.12" stroke="#000" stroke-width="1"/>
<line x1="60.20" y1="792.30" x2="60.20" y2="797.30" stroke="#000" stroke-width="1"/>
<line x1="60.20" y1="553.40" x2="60.20" y2="548.40" stroke="#000" stroke-width="1"/>
<line x1="89.88" y1="792.30" x2="89.88" y2="794.80" stroke="#000" stroke-width="1"/>
<line x1="89.88" y1="553.40" x2="89.88" y2="550.90" stroke="#000" stroke-width="1"/>
<line x1="107.24" y1="792.30" x2="107.24" y2="794.80" stroke="#000" stroke-width="1"/>
<line x1="107.24" y1="553.40" x2="107.24" y2="550.90" stroke="#000" stroke-width="1"/>
<line x1="119.56" y1="792.30" x2="119.56" y2="794.80" stroke="#000" stroke-width="1"/>
<line x1="119.56" y1="553.40" x2="119.56" y2="550.90" stroke="#000" stroke-width="1"/>
<line x1="129.12" y1="792.30" x2="129.12" y2="794.80" stroke="#000" stroke-width="1"/>
<line x1="129.12" y1="553.40" x2="129.12" y2="550.90" stroke="#000" stroke-width="1"/>
<line x1="136.93" y1="792.30" x2="136.93" y2="794.80" stroke="#000" stroke-width="1"/>
<line x1="136.93" y1="553.40" x2="136.93" y2="550.90" stroke="#000" stroke-width="1"/>
<line x1="143.53" y1="792.30" x2="143.53" y2="794.80" stroke="#000" stroke-width="1"/>
<line x1="143.53" y1="553.40" x2="143.53" y2="550.90" stroke="#000" stroke-width="1"/>
<line x1="149.24" y1="792.30" x2="149.24" y2="794.80" stroke="#000" stroke-width="1"/>
<line x1="149.24" y1="553.40" x2="149.24" y2="550.90" stroke="#000" stroke-width="1"/>
<line x1="154.29" y1="792.30" x2="154.29" y2="794.80" stroke="#000" stroke-width="1"/>
<line x1="154.29" y1="553.40" x2="154.29" y2="550.90" stroke="#000" stroke-width="1"/>
<line x1="158.80" y1="792.30" x2="158.80" y2="797.30" stroke="#000" stroke-width="1"/>
<line x1="158.80" y1="553.40" x2="158.80" y2="548.40" stroke="#000" stroke-width="1"/>
<line x1="188.48" y1="792.30" x2="188.48" y2="794.80" stroke="#000" stroke-width="1"/>
<line x1="188.48" y1="553.40" x2="188.48" y2="550.90" stroke="#000" stroke-width="1"/>
<line x1="205.84" y1="792.30" x2="205.84" y2="794.80" stroke="#000" stroke-width="1"/>
<line x1="205.84" y1="553.40" x2="205.84" y2="550.90" stroke="#000" stroke-width="1"/>
<line x1="218.16" y1="792.30" x2="218.16" y2="794.80" stroke="#000" stroke-width="1"/>
<line x1="218.16" y1="553.40" x2="218.16" y2="550.90" stroke="#000" stroke-width="1"/>
<line x1="227.72" y1="792.30" x2="227.72" y2="794.80" stroke="#000" stroke-width="1"/>
<line x1="227.72" y1="553.40" x2="227.72" y2="550.90" stroke="#000" stroke-width="1"/>
<line x1="235.53" y1="792.30" x2="235.53" y2="794.80" stroke="#000" stroke-width="1"/>
<line x1="235.53" y1="553.40" x2="235.53" y2="550.90" stroke="#000" stroke-width="1"/>
<line x1="242.13" y1="792.30" x2="242.13" y2="794.80" stroke="#000" stroke-width="1"/>
<line x1="242.13" y1="553.40" x2="242.13" y2="550.90" stroke="#000" stroke-width="1"/>
<line x1="247.84" y1="792.30" x2="247.84" y2="794.80" stroke="#000" stroke-width="1"/>
<line x1="247.84" y1="553.40" x2="247.84" y2="550.90" stroke="#000" stroke-width="1"/>
<line x1="252.89" y1="792.30" x2="252.89" y2="794.80" stroke="#000" stroke-width="1"/>
<line x1="252.89" y1="553.40" x2="252.89" y2="550.90" stroke="#000" stroke-width="1"/>
<line x1="257.40" y1="792.30" x2="257.40" y2="797.30" stroke="#000" stroke-width="1"/>
<line x1="257.40" y1="553.40" x2="257.40" y2="548.40" stroke="#000" stroke-width="1"/>
<line x1="287.08" y1="792.30" x2="287.08" y2="794.80" stroke="#000" stroke-width="1"/>
<line x1="287.08" y1="553.40" x2="287.08" y2="550.90" stroke="#000" stroke-width="1"/>
<text transform="translate(60.40,813.60) scale(1,1.06)" font-size="13.1" text-anchor="middle">10<tspan dy="-4.4" font-size="9.6">−1</tspan></text>
<text transform="translate(159.00,813.60) scale(1,1.06)" font-size="13.1" text-anchor="middle">10<tspan dy="-4.4" font-size="9.6">0</tspan></text>
<text transform="translate(257.60,813.60) scale(1,1.06)" font-size="13.1" text-anchor="middle">10<tspan dy="-4.4" font-size="9.6">1</tspan></text>
<text transform="translate(178.50,835.60) scale(1,1.08)" font-size="19.5" text-anchor="middle">Frequency (Hz)</text>
<text transform="translate(77.00,575.50) scale(1,1.05)" font-size="16.9" text-anchor="start">(e)</text>
<text transform="translate(212.30,574.20) scale(1,1.05)" font-size="16.8" text-anchor="start">f<tspan dy="4.5" font-size="12">C</tspan><tspan dy="-4.5">: 2.00 Hz</tspan></text>
<text transform="translate(25.80,672.80) rotate(-90) scale(1,1.08)" font-size="19.5" text-anchor="middle">log<tspan dy="5.2" font-size="13.6">10</tspan><tspan dy="-5.2">(Spectral ratio)</tspan></text>
</svg></body></html>
